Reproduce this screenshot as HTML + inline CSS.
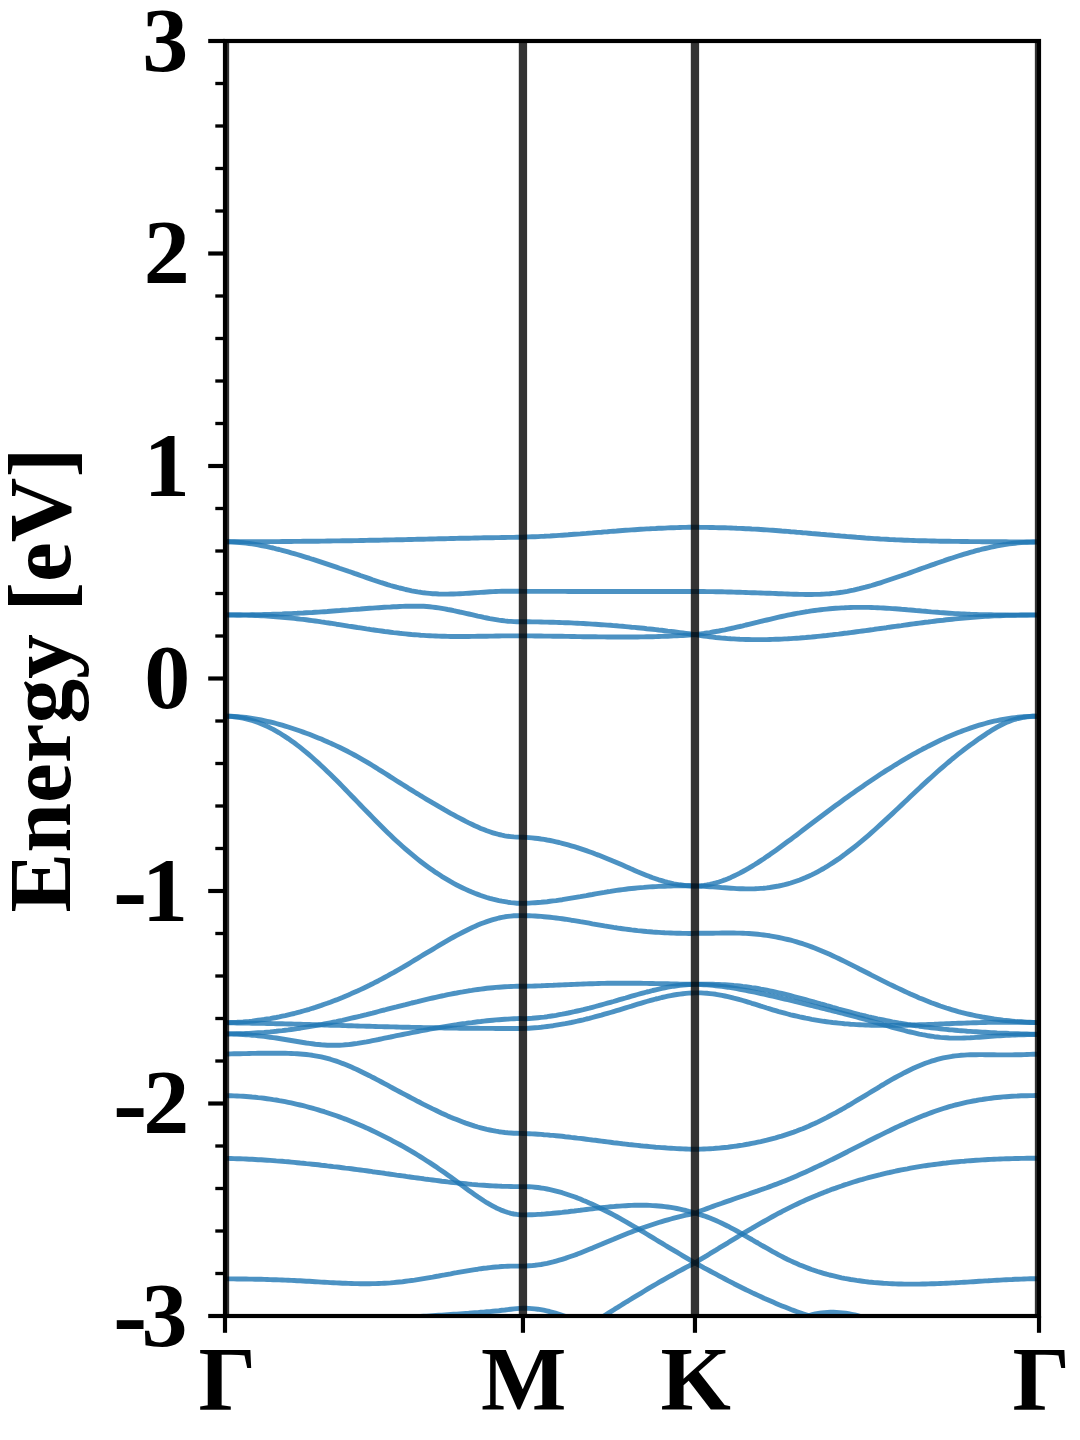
<!DOCTYPE html>
<html lang="en"><head><meta charset="utf-8"><title>Band structure</title>
<style>html,body{margin:0;padding:0;background:#fff}body{width:1080px;height:1440px;overflow:hidden}svg{display:block}text{font-family:"Liberation Serif","Times New Roman",Times,serif;font-weight:bold;fill:#000}</style></head><body>
<svg width="1080" height="1440" viewBox="0 0 1080 1440">
<rect width="1080" height="1440" fill="#fff"/>
<defs><clipPath id="ax"><rect x="225.0" y="41.0" width="814.0" height="1275.0"/></clipPath></defs>
<g clip-path="url(#ax)" fill="none" stroke="#1f77b4" stroke-opacity="0.8" stroke-width="4.9" stroke-linejoin="round" stroke-linecap="butt">
<path d="M225.0,541.8 L228.0,541.8 L231.0,541.8 L234.0,541.8 L237.0,541.8 L240.0,541.8 L243.1,541.8 L246.1,541.8 L249.1,541.8 L252.1,541.7 L255.1,541.7 L258.1,541.7 L261.1,541.7 L264.1,541.7 L267.1,541.7 L270.1,541.6 L273.2,541.6 L276.2,541.6 L279.2,541.6 L282.2,541.5 L285.2,541.5 L288.2,541.5 L291.2,541.5 L294.2,541.4 L297.2,541.4 L300.2,541.4 L303.2,541.3 L306.3,541.3 L309.3,541.3 L312.3,541.2 L315.3,541.2 L318.3,541.2 L321.3,541.1 L324.3,541.1 L327.3,541.0 L330.3,541.0 L333.3,540.9 L336.4,540.9 L339.4,540.9 L342.4,540.8 L345.4,540.8 L348.4,540.7 L351.4,540.7 L354.4,540.6 L357.4,540.6 L360.4,540.5 L363.4,540.5 L366.5,540.4 L369.5,540.3 L372.5,540.3 L375.5,540.2 L378.5,540.2 L381.5,540.1 L384.5,540.0 L387.5,540.0 L390.5,539.9 L393.5,539.9 L396.5,539.8 L399.6,539.7 L402.6,539.7 L405.6,539.6 L408.6,539.5 L411.6,539.5 L414.6,539.4 L417.6,539.3 L420.6,539.2 L423.6,539.2 L426.6,539.1 L429.7,539.0 L432.7,539.0 L435.7,538.9 L438.7,538.8 L441.7,538.8 L444.7,538.7 L447.7,538.6 L450.7,538.5 L453.7,538.5 L456.7,538.4 L459.7,538.3 L462.8,538.3 L465.8,538.2 L468.8,538.2 L471.8,538.1 L474.8,538.0 L477.8,538.0 L480.8,537.9 L483.8,537.8 L486.8,537.8 L489.8,537.7 L492.9,537.7 L495.9,537.6 L498.9,537.6 L501.9,537.5 L504.9,537.5 L507.9,537.4 L510.9,537.4 L513.9,537.4 L516.9,537.3 L519.9,537.3 L523.0,537.2 L526.0,537.0 L529.0,536.9 L532.0,536.8 L535.0,536.7 L538.0,536.6 L541.1,536.4 L544.1,536.3 L547.1,536.1 L550.1,536.0 L553.1,535.8 L556.1,535.6 L559.2,535.4 L562.2,535.2 L565.2,535.0 L568.2,534.8 L571.2,534.5 L574.3,534.3 L577.3,534.1 L580.3,533.9 L583.3,533.6 L586.3,533.4 L589.3,533.1 L592.4,532.9 L595.4,532.6 L598.4,532.4 L601.4,532.2 L604.4,531.9 L607.4,531.7 L610.5,531.4 L613.5,531.2 L616.5,531.0 L619.5,530.7 L622.5,530.5 L625.6,530.3 L628.6,530.1 L631.6,529.9 L634.6,529.7 L637.6,529.5 L640.6,529.3 L643.7,529.1 L646.7,528.9 L649.7,528.8 L652.7,528.6 L655.7,528.5 L658.7,528.3 L661.8,528.2 L664.8,528.1 L667.8,527.9 L670.8,527.8 L673.8,527.7 L676.9,527.6 L679.9,527.5 L682.9,527.4 L685.9,527.4 L688.9,527.3 L691.9,527.3 L695.0,527.3 L698.0,527.3 L700.9,527.4 L703.9,527.4 L706.9,527.4 L709.9,527.5 L712.9,527.5 L715.9,527.6 L718.9,527.7 L721.9,527.7 L724.9,527.8 L727.9,527.9 L730.9,528.0 L733.9,528.1 L736.8,528.3 L739.8,528.4 L742.8,528.5 L745.8,528.7 L748.8,528.8 L751.8,529.0 L754.8,529.1 L757.8,529.3 L760.8,529.5 L763.8,529.7 L766.8,529.9 L769.8,530.1 L772.7,530.3 L775.7,530.5 L778.7,530.7 L781.7,531.0 L784.7,531.2 L787.7,531.4 L790.7,531.7 L793.7,531.9 L796.7,532.2 L799.7,532.4 L802.7,532.7 L805.7,532.9 L808.6,533.2 L811.6,533.5 L814.6,533.7 L817.6,534.0 L820.6,534.3 L823.6,534.5 L826.6,534.8 L829.6,535.0 L832.6,535.3 L835.6,535.6 L838.6,535.8 L841.6,536.1 L844.5,536.3 L847.5,536.6 L850.5,536.8 L853.5,537.0 L856.5,537.3 L859.5,537.5 L862.5,537.7 L865.5,538.0 L868.5,538.2 L871.5,538.4 L874.5,538.6 L877.5,538.8 L880.4,539.0 L883.4,539.1 L886.4,539.3 L889.4,539.5 L892.4,539.6 L895.4,539.8 L898.4,539.9 L901.4,540.0 L904.4,540.2 L907.4,540.3 L910.4,540.4 L913.4,540.5 L916.3,540.6 L919.3,540.7 L922.3,540.8 L925.3,540.8 L928.3,540.9 L931.3,541.0 L934.3,541.0 L937.3,541.1 L940.3,541.2 L943.3,541.2 L946.3,541.3 L949.3,541.3 L952.2,541.4 L955.2,541.4 L958.2,541.4 L961.2,541.5 L964.2,541.5 L967.2,541.5 L970.2,541.6 L973.2,541.6 L976.2,541.6 L979.2,541.6 L982.2,541.7 L985.2,541.7 L988.1,541.7 L991.1,541.7 L994.1,541.8 L997.1,541.8 L1000.1,541.8 L1003.1,541.8 L1006.1,541.8 L1009.1,541.9 L1012.1,541.9 L1015.1,541.9 L1018.1,541.9 L1021.1,541.9 L1024.0,542.0 L1027.0,542.0 L1030.0,542.0 L1033.0,542.0 L1036.0,542.0 L1039.0,542.0"/>
<path d="M225.0,541.8 L228.0,541.8 L231.0,541.9 L234.0,542.0 L237.0,542.2 L240.0,542.5 L243.1,542.8 L246.1,543.1 L249.1,543.5 L252.1,543.9 L255.1,544.4 L258.1,544.9 L261.1,545.5 L264.1,546.1 L267.1,546.7 L270.1,547.4 L273.2,548.0 L276.2,548.8 L279.2,549.5 L282.2,550.3 L285.2,551.1 L288.2,551.9 L291.2,552.8 L294.2,553.6 L297.2,554.5 L300.2,555.4 L303.2,556.3 L306.3,557.3 L309.3,558.2 L312.3,559.2 L315.3,560.1 L318.3,561.1 L321.3,562.1 L324.3,563.1 L327.3,564.1 L330.3,565.1 L333.3,566.1 L336.4,567.1 L339.4,568.2 L342.4,569.2 L345.4,570.2 L348.4,571.3 L351.4,572.3 L354.4,573.4 L357.4,574.4 L360.4,575.5 L363.4,576.5 L366.5,577.6 L369.5,578.6 L372.5,579.7 L375.5,580.7 L378.5,581.7 L381.5,582.7 L384.5,583.6 L387.5,584.6 L390.5,585.5 L393.5,586.3 L396.5,587.2 L399.6,588.0 L402.6,588.7 L405.6,589.5 L408.6,590.1 L411.6,590.8 L414.6,591.3 L417.6,591.9 L420.6,592.3 L423.6,592.8 L426.6,593.1 L429.7,593.4 L432.7,593.7 L435.7,593.8 L438.7,594.0 L441.7,594.1 L444.7,594.1 L447.7,594.1 L450.7,594.0 L453.7,594.0 L456.7,593.9 L459.7,593.7 L462.8,593.6 L465.8,593.4 L468.8,593.2 L471.8,593.0 L474.8,592.8 L477.8,592.6 L480.8,592.4 L483.8,592.2 L486.8,592.0 L489.8,591.8 L492.9,591.6 L495.9,591.5 L498.9,591.4 L501.9,591.3 L504.9,591.2 L507.9,591.2 L510.9,591.2 L513.9,591.2 L516.9,591.3 L519.9,591.3 L523.0,591.4 L526.0,591.4 L529.0,591.4 L532.0,591.4 L535.0,591.4 L538.0,591.4 L541.1,591.4 L544.1,591.4 L547.1,591.4 L550.1,591.4 L553.1,591.4 L556.1,591.4 L559.2,591.4 L562.2,591.4 L565.2,591.4 L568.2,591.5 L571.2,591.5 L574.3,591.5 L577.3,591.5 L580.3,591.5 L583.3,591.5 L586.3,591.5 L589.3,591.5 L592.4,591.5 L595.4,591.5 L598.4,591.5 L601.4,591.5 L604.4,591.5 L607.4,591.5 L610.5,591.5 L613.5,591.5 L616.5,591.5 L619.5,591.5 L622.5,591.5 L625.6,591.5 L628.6,591.5 L631.6,591.5 L634.6,591.5 L637.6,591.5 L640.6,591.5 L643.7,591.5 L646.7,591.5 L649.7,591.5 L652.7,591.5 L655.7,591.5 L658.7,591.5 L661.8,591.5 L664.8,591.5 L667.8,591.5 L670.8,591.5 L673.8,591.5 L676.9,591.5 L679.9,591.5 L682.9,591.5 L685.9,591.5 L688.9,591.5 L691.9,591.5 L695.0,591.5 L698.0,591.5 L700.9,591.5 L703.9,591.5 L706.9,591.6 L709.9,591.6 L712.9,591.6 L715.9,591.7 L718.9,591.8 L721.9,591.8 L724.9,591.9 L727.9,592.0 L730.9,592.0 L733.9,592.1 L736.8,592.2 L739.8,592.3 L742.8,592.4 L745.8,592.5 L748.8,592.6 L751.8,592.7 L754.8,592.8 L757.8,592.9 L760.8,593.0 L763.8,593.1 L766.8,593.2 L769.8,593.3 L772.7,593.4 L775.7,593.5 L778.7,593.7 L781.7,593.8 L784.7,593.9 L787.7,594.0 L790.7,594.1 L793.7,594.2 L796.7,594.3 L799.7,594.4 L802.7,594.4 L805.7,594.5 L808.6,594.5 L811.6,594.5 L814.6,594.4 L817.6,594.4 L820.6,594.3 L823.6,594.1 L826.6,593.9 L829.6,593.7 L832.6,593.4 L835.6,593.1 L838.6,592.7 L841.6,592.3 L844.5,591.8 L847.5,591.3 L850.5,590.7 L853.5,590.1 L856.5,589.4 L859.5,588.7 L862.5,587.9 L865.5,587.2 L868.5,586.3 L871.5,585.5 L874.5,584.6 L877.5,583.7 L880.4,582.8 L883.4,581.8 L886.4,580.8 L889.4,579.8 L892.4,578.8 L895.4,577.8 L898.4,576.8 L901.4,575.8 L904.4,574.7 L907.4,573.7 L910.4,572.6 L913.4,571.5 L916.3,570.5 L919.3,569.4 L922.3,568.3 L925.3,567.3 L928.3,566.2 L931.3,565.1 L934.3,564.1 L937.3,563.0 L940.3,562.0 L943.3,561.0 L946.3,559.9 L949.3,558.9 L952.2,558.0 L955.2,557.0 L958.2,556.0 L961.2,555.1 L964.2,554.2 L967.2,553.3 L970.2,552.4 L973.2,551.6 L976.2,550.7 L979.2,550.0 L982.2,549.2 L985.2,548.5 L988.1,547.8 L991.1,547.1 L994.1,546.5 L997.1,545.9 L1000.1,545.3 L1003.1,544.8 L1006.1,544.4 L1009.1,543.9 L1012.1,543.5 L1015.1,543.2 L1018.1,542.9 L1021.1,542.6 L1024.0,542.4 L1027.0,542.2 L1030.0,542.1 L1033.0,542.0 L1036.0,541.9 L1039.0,541.9"/>
<path d="M225.0,615.0 L228.0,615.0 L231.0,615.0 L234.0,615.0 L237.0,615.0 L240.0,615.0 L243.1,614.9 L246.1,614.9 L249.1,614.9 L252.1,614.8 L255.1,614.8 L258.1,614.7 L261.1,614.6 L264.1,614.5 L267.1,614.5 L270.1,614.4 L273.2,614.3 L276.2,614.2 L279.2,614.1 L282.2,614.0 L285.2,613.8 L288.2,613.7 L291.2,613.6 L294.2,613.4 L297.2,613.3 L300.2,613.1 L303.2,613.0 L306.3,612.8 L309.3,612.6 L312.3,612.5 L315.3,612.3 L318.3,612.1 L321.3,611.9 L324.3,611.7 L327.3,611.5 L330.3,611.2 L333.3,611.0 L336.4,610.8 L339.4,610.6 L342.4,610.3 L345.4,610.1 L348.4,609.9 L351.4,609.6 L354.4,609.4 L357.4,609.2 L360.4,609.0 L363.4,608.7 L366.5,608.5 L369.5,608.3 L372.5,608.1 L375.5,607.9 L378.5,607.7 L381.5,607.5 L384.5,607.3 L387.5,607.1 L390.5,607.0 L393.5,606.8 L396.5,606.7 L399.6,606.5 L402.6,606.4 L405.6,606.3 L408.6,606.2 L411.6,606.2 L414.6,606.2 L417.6,606.2 L420.6,606.2 L423.6,606.3 L426.6,606.5 L429.7,606.8 L432.7,607.1 L435.7,607.5 L438.7,607.9 L441.7,608.4 L444.7,608.9 L447.7,609.5 L450.7,610.0 L453.7,610.7 L456.7,611.3 L459.7,612.0 L462.8,612.6 L465.8,613.3 L468.8,614.0 L471.8,614.7 L474.8,615.4 L477.8,616.1 L480.8,616.7 L483.8,617.4 L486.8,618.0 L489.8,618.6 L492.9,619.1 L495.9,619.6 L498.9,620.1 L501.9,620.5 L504.9,620.9 L507.9,621.2 L510.9,621.4 L513.9,621.6 L516.9,621.7 L519.9,621.7 L523.0,621.8 L526.0,621.8 L529.0,621.8 L532.0,621.9 L535.0,621.9 L538.0,621.9 L541.1,622.0 L544.1,622.1 L547.1,622.1 L550.1,622.2 L553.1,622.3 L556.1,622.4 L559.2,622.5 L562.2,622.6 L565.2,622.7 L568.2,622.8 L571.2,622.9 L574.3,623.1 L577.3,623.2 L580.3,623.4 L583.3,623.5 L586.3,623.7 L589.3,623.9 L592.4,624.1 L595.4,624.3 L598.4,624.5 L601.4,624.7 L604.4,624.9 L607.4,625.1 L610.5,625.3 L613.5,625.6 L616.5,625.8 L619.5,626.1 L622.5,626.3 L625.6,626.6 L628.6,626.9 L631.6,627.2 L634.6,627.4 L637.6,627.7 L640.6,628.0 L643.7,628.3 L646.7,628.7 L649.7,629.0 L652.7,629.3 L655.7,629.6 L658.7,630.0 L661.8,630.3 L664.8,630.7 L667.8,631.1 L670.8,631.4 L673.8,631.8 L676.9,632.2 L679.9,632.6 L682.9,633.0 L685.9,633.4 L688.9,633.8 L691.9,634.2 L695.0,634.6 L698.0,634.3 L700.9,633.9 L703.9,633.5 L706.9,633.0 L709.9,632.6 L712.9,632.0 L715.9,631.5 L718.9,631.0 L721.9,630.4 L724.9,629.8 L727.9,629.1 L730.9,628.5 L733.9,627.8 L736.8,627.1 L739.8,626.5 L742.8,625.8 L745.8,625.0 L748.8,624.3 L751.8,623.6 L754.8,622.9 L757.8,622.2 L760.8,621.4 L763.8,620.7 L766.8,620.0 L769.8,619.3 L772.7,618.6 L775.7,617.9 L778.7,617.2 L781.7,616.5 L784.7,615.8 L787.7,615.2 L790.7,614.6 L793.7,614.0 L796.7,613.4 L799.7,612.9 L802.7,612.3 L805.7,611.8 L808.6,611.4 L811.6,610.9 L814.6,610.5 L817.6,610.1 L820.6,609.7 L823.6,609.4 L826.6,609.1 L829.6,608.8 L832.6,608.5 L835.6,608.3 L838.6,608.1 L841.6,607.9 L844.5,607.8 L847.5,607.6 L850.5,607.5 L853.5,607.4 L856.5,607.4 L859.5,607.4 L862.5,607.4 L865.5,607.4 L868.5,607.4 L871.5,607.5 L874.5,607.6 L877.5,607.7 L880.4,607.9 L883.4,608.0 L886.4,608.2 L889.4,608.4 L892.4,608.6 L895.4,608.8 L898.4,609.0 L901.4,609.3 L904.4,609.5 L907.4,609.8 L910.4,610.0 L913.4,610.3 L916.3,610.6 L919.3,610.8 L922.3,611.1 L925.3,611.3 L928.3,611.6 L931.3,611.9 L934.3,612.1 L937.3,612.3 L940.3,612.6 L943.3,612.8 L946.3,613.0 L949.3,613.2 L952.2,613.4 L955.2,613.6 L958.2,613.7 L961.2,613.9 L964.2,614.0 L967.2,614.1 L970.2,614.3 L973.2,614.4 L976.2,614.5 L979.2,614.6 L982.2,614.6 L985.2,614.7 L988.1,614.8 L991.1,614.8 L994.1,614.9 L997.1,614.9 L1000.1,615.0 L1003.1,615.0 L1006.1,615.0 L1009.1,615.1 L1012.1,615.1 L1015.1,615.1 L1018.1,615.1 L1021.1,615.1 L1024.0,615.1 L1027.0,615.1 L1030.0,615.1 L1033.0,615.1 L1036.0,615.1 L1039.0,615.1"/>
<path d="M225.0,614.9 L228.0,614.9 L231.0,614.9 L234.0,614.9 L237.0,615.0 L240.0,615.0 L243.1,615.1 L246.1,615.1 L249.1,615.2 L252.1,615.3 L255.1,615.5 L258.1,615.6 L261.1,615.8 L264.1,615.9 L267.1,616.1 L270.1,616.3 L273.2,616.5 L276.2,616.7 L279.2,617.0 L282.2,617.2 L285.2,617.5 L288.2,617.8 L291.2,618.1 L294.2,618.4 L297.2,618.7 L300.2,619.1 L303.2,619.4 L306.3,619.8 L309.3,620.2 L312.3,620.6 L315.3,621.0 L318.3,621.4 L321.3,621.9 L324.3,622.3 L327.3,622.8 L330.3,623.2 L333.3,623.7 L336.4,624.2 L339.4,624.6 L342.4,625.1 L345.4,625.6 L348.4,626.1 L351.4,626.5 L354.4,627.0 L357.4,627.5 L360.4,627.9 L363.4,628.4 L366.5,628.9 L369.5,629.3 L372.5,629.8 L375.5,630.2 L378.5,630.6 L381.5,631.0 L384.5,631.5 L387.5,631.8 L390.5,632.2 L393.5,632.6 L396.5,632.9 L399.6,633.3 L402.6,633.6 L405.6,633.9 L408.6,634.2 L411.6,634.5 L414.6,634.7 L417.6,634.9 L420.6,635.2 L423.6,635.4 L426.6,635.6 L429.7,635.7 L432.7,635.9 L435.7,636.0 L438.7,636.1 L441.7,636.2 L444.7,636.3 L447.7,636.4 L450.7,636.5 L453.7,636.5 L456.7,636.5 L459.7,636.5 L462.8,636.5 L465.8,636.5 L468.8,636.5 L471.8,636.4 L474.8,636.4 L477.8,636.3 L480.8,636.3 L483.8,636.2 L486.8,636.2 L489.8,636.1 L492.9,636.1 L495.9,636.0 L498.9,636.0 L501.9,635.9 L504.9,635.9 L507.9,635.9 L510.9,635.9 L513.9,635.9 L516.9,635.9 L519.9,635.9 L523.0,635.9 L526.0,635.9 L529.0,635.9 L532.0,635.9 L535.0,636.0 L538.0,636.0 L541.1,636.0 L544.1,636.1 L547.1,636.1 L550.1,636.1 L553.1,636.2 L556.1,636.2 L559.2,636.3 L562.2,636.3 L565.2,636.4 L568.2,636.4 L571.2,636.5 L574.3,636.5 L577.3,636.6 L580.3,636.6 L583.3,636.7 L586.3,636.7 L589.3,636.7 L592.4,636.8 L595.4,636.8 L598.4,636.9 L601.4,636.9 L604.4,636.9 L607.4,637.0 L610.5,637.0 L613.5,637.0 L616.5,637.0 L619.5,637.0 L622.5,637.0 L625.6,637.0 L628.6,637.0 L631.6,637.0 L634.6,637.0 L637.6,637.0 L640.6,636.9 L643.7,636.9 L646.7,636.8 L649.7,636.8 L652.7,636.7 L655.7,636.6 L658.7,636.5 L661.8,636.4 L664.8,636.3 L667.8,636.2 L670.8,636.1 L673.8,635.9 L676.9,635.8 L679.9,635.6 L682.9,635.5 L685.9,635.3 L688.9,635.1 L691.9,634.9 L695.0,634.6 L698.0,635.1 L700.9,635.5 L703.9,636.0 L706.9,636.4 L709.9,636.8 L712.9,637.1 L715.9,637.5 L718.9,637.8 L721.9,638.1 L724.9,638.3 L727.9,638.6 L730.9,638.8 L733.9,638.9 L736.8,639.1 L739.8,639.3 L742.8,639.4 L745.8,639.5 L748.8,639.5 L751.8,639.6 L754.8,639.6 L757.8,639.6 L760.8,639.6 L763.8,639.6 L766.8,639.6 L769.8,639.5 L772.7,639.4 L775.7,639.3 L778.7,639.2 L781.7,639.1 L784.7,638.9 L787.7,638.8 L790.7,638.6 L793.7,638.4 L796.7,638.2 L799.7,638.0 L802.7,637.7 L805.7,637.5 L808.6,637.2 L811.6,637.0 L814.6,636.7 L817.6,636.4 L820.6,636.1 L823.6,635.8 L826.6,635.5 L829.6,635.1 L832.6,634.8 L835.6,634.4 L838.6,634.1 L841.6,633.7 L844.5,633.3 L847.5,633.0 L850.5,632.6 L853.5,632.2 L856.5,631.8 L859.5,631.4 L862.5,631.0 L865.5,630.6 L868.5,630.2 L871.5,629.8 L874.5,629.3 L877.5,628.9 L880.4,628.5 L883.4,628.1 L886.4,627.7 L889.4,627.2 L892.4,626.8 L895.4,626.4 L898.4,626.0 L901.4,625.6 L904.4,625.1 L907.4,624.7 L910.4,624.3 L913.4,623.9 L916.3,623.5 L919.3,623.1 L922.3,622.7 L925.3,622.3 L928.3,622.0 L931.3,621.6 L934.3,621.2 L937.3,620.8 L940.3,620.5 L943.3,620.2 L946.3,619.8 L949.3,619.5 L952.2,619.2 L955.2,618.9 L958.2,618.6 L961.2,618.3 L964.2,618.0 L967.2,617.8 L970.2,617.5 L973.2,617.3 L976.2,617.0 L979.2,616.8 L982.2,616.6 L985.2,616.4 L988.1,616.3 L991.1,616.1 L994.1,615.9 L997.1,615.8 L1000.1,615.7 L1003.1,615.6 L1006.1,615.4 L1009.1,615.3 L1012.1,615.3 L1015.1,615.2 L1018.1,615.1 L1021.1,615.0 L1024.0,615.0 L1027.0,615.0 L1030.0,614.9 L1033.0,614.9 L1036.0,614.9 L1039.0,614.9"/>
<path d="M225.0,716.2 L228.0,716.2 L231.0,716.3 L234.0,716.5 L237.0,716.7 L240.0,716.9 L243.1,717.2 L246.1,717.5 L249.1,717.9 L252.1,718.4 L255.1,718.9 L258.1,719.4 L261.1,720.0 L264.1,720.6 L267.1,721.3 L270.1,722.0 L273.2,722.7 L276.2,723.5 L279.2,724.3 L282.2,725.2 L285.2,726.1 L288.2,727.0 L291.2,728.0 L294.2,729.0 L297.2,730.0 L300.2,731.0 L303.2,732.1 L306.3,733.2 L309.3,734.3 L312.3,735.5 L315.3,736.7 L318.3,737.9 L321.3,739.1 L324.3,740.4 L327.3,741.7 L330.3,743.1 L333.3,744.4 L336.4,745.9 L339.4,747.3 L342.4,748.8 L345.4,750.3 L348.4,751.8 L351.4,753.4 L354.4,755.0 L357.4,756.7 L360.4,758.4 L363.4,760.1 L366.5,761.9 L369.5,763.7 L372.5,765.5 L375.5,767.4 L378.5,769.3 L381.5,771.1 L384.5,773.0 L387.5,774.9 L390.5,776.9 L393.5,778.8 L396.5,780.7 L399.6,782.6 L402.6,784.5 L405.6,786.4 L408.6,788.3 L411.6,790.1 L414.6,792.0 L417.6,793.8 L420.6,795.7 L423.6,797.5 L426.6,799.3 L429.7,801.1 L432.7,802.9 L435.7,804.6 L438.7,806.4 L441.7,808.1 L444.7,809.9 L447.7,811.6 L450.7,813.3 L453.7,814.9 L456.7,816.6 L459.7,818.2 L462.8,819.8 L465.8,821.4 L468.8,822.9 L471.8,824.3 L474.8,825.8 L477.8,827.1 L480.8,828.4 L483.8,829.6 L486.8,830.8 L489.8,831.8 L492.9,832.8 L495.9,833.7 L498.9,834.5 L501.9,835.2 L504.9,835.8 L507.9,836.3 L510.9,836.6 L513.9,836.9 L516.9,837.1 L519.9,837.1 L523.0,837.2 L526.0,837.4 L529.0,837.6 L532.0,837.9 L535.0,838.2 L538.0,838.5 L541.1,839.0 L544.1,839.4 L547.1,840.0 L550.1,840.5 L553.1,841.1 L556.1,841.8 L559.2,842.5 L562.2,843.3 L565.2,844.1 L568.2,844.9 L571.2,845.8 L574.3,846.7 L577.3,847.6 L580.3,848.6 L583.3,849.6 L586.3,850.6 L589.3,851.7 L592.4,852.8 L595.4,854.0 L598.4,855.1 L601.4,856.3 L604.4,857.5 L607.4,858.7 L610.5,860.0 L613.5,861.2 L616.5,862.5 L619.5,863.8 L622.5,865.1 L625.6,866.4 L628.6,867.7 L631.6,869.1 L634.6,870.4 L637.6,871.7 L640.6,872.9 L643.7,874.2 L646.7,875.4 L649.7,876.6 L652.7,877.7 L655.7,878.7 L658.7,879.8 L661.8,880.7 L664.8,881.6 L667.8,882.4 L670.8,883.1 L673.8,883.8 L676.9,884.3 L679.9,884.8 L682.9,885.2 L685.9,885.6 L688.9,885.8 L691.9,886.0 L695.0,886.0 L698.0,885.9 L700.9,885.7 L703.9,885.4 L706.9,885.0 L709.9,884.4 L712.9,883.7 L715.9,882.9 L718.9,882.0 L721.9,881.0 L724.9,879.9 L727.9,878.7 L730.9,877.4 L733.9,876.0 L736.8,874.6 L739.8,873.1 L742.8,871.5 L745.8,869.8 L748.8,868.1 L751.8,866.3 L754.8,864.5 L757.8,862.6 L760.8,860.6 L763.8,858.7 L766.8,856.6 L769.8,854.6 L772.7,852.5 L775.7,850.4 L778.7,848.2 L781.7,846.0 L784.7,843.8 L787.7,841.6 L790.7,839.4 L793.7,837.1 L796.7,834.9 L799.7,832.6 L802.7,830.3 L805.7,828.0 L808.6,825.8 L811.6,823.5 L814.6,821.2 L817.6,819.0 L820.6,816.7 L823.6,814.5 L826.6,812.2 L829.6,810.0 L832.6,807.8 L835.6,805.6 L838.6,803.4 L841.6,801.2 L844.5,799.1 L847.5,796.9 L850.5,794.8 L853.5,792.7 L856.5,790.6 L859.5,788.5 L862.5,786.4 L865.5,784.3 L868.5,782.3 L871.5,780.3 L874.5,778.3 L877.5,776.3 L880.4,774.3 L883.4,772.4 L886.4,770.4 L889.4,768.6 L892.4,766.7 L895.4,764.8 L898.4,763.0 L901.4,761.2 L904.4,759.4 L907.4,757.7 L910.4,755.9 L913.4,754.2 L916.3,752.6 L919.3,750.9 L922.3,749.3 L925.3,747.8 L928.3,746.2 L931.3,744.7 L934.3,743.2 L937.3,741.7 L940.3,740.3 L943.3,738.9 L946.3,737.6 L949.3,736.3 L952.2,735.0 L955.2,733.8 L958.2,732.6 L961.2,731.4 L964.2,730.3 L967.2,729.2 L970.2,728.1 L973.2,727.1 L976.2,726.1 L979.2,725.2 L982.2,724.3 L985.2,723.5 L988.1,722.7 L991.1,721.9 L994.1,721.2 L997.1,720.6 L1000.1,720.0 L1003.1,719.4 L1006.1,718.9 L1009.1,718.4 L1012.1,718.0 L1015.1,717.6 L1018.1,717.3 L1021.1,717.0 L1024.0,716.7 L1027.0,716.6 L1030.0,716.4 L1033.0,716.3 L1036.0,716.3 L1039.0,716.3"/>
<path d="M225.0,716.2 L228.0,716.2 L231.0,716.4 L234.0,716.7 L237.0,717.0 L240.0,717.5 L243.1,718.1 L246.1,718.8 L249.1,719.6 L252.1,720.5 L255.1,721.4 L258.1,722.5 L261.1,723.7 L264.1,725.0 L267.1,726.4 L270.1,727.9 L273.2,729.4 L276.2,731.1 L279.2,732.8 L282.2,734.7 L285.2,736.6 L288.2,738.6 L291.2,740.7 L294.2,742.8 L297.2,745.1 L300.2,747.4 L303.2,749.8 L306.3,752.3 L309.3,754.9 L312.3,757.5 L315.3,760.2 L318.3,762.9 L321.3,765.7 L324.3,768.5 L327.3,771.4 L330.3,774.3 L333.3,777.3 L336.4,780.3 L339.4,783.3 L342.4,786.4 L345.4,789.5 L348.4,792.6 L351.4,795.7 L354.4,798.8 L357.4,801.9 L360.4,805.0 L363.4,808.1 L366.5,811.2 L369.5,814.3 L372.5,817.4 L375.5,820.5 L378.5,823.5 L381.5,826.5 L384.5,829.5 L387.5,832.4 L390.5,835.3 L393.5,838.2 L396.5,841.0 L399.6,843.8 L402.6,846.5 L405.6,849.1 L408.6,851.7 L411.6,854.2 L414.6,856.7 L417.6,859.1 L420.6,861.5 L423.6,863.8 L426.6,866.0 L429.7,868.2 L432.7,870.3 L435.7,872.4 L438.7,874.3 L441.7,876.3 L444.7,878.1 L447.7,879.9 L450.7,881.7 L453.7,883.4 L456.7,885.0 L459.7,886.5 L462.8,888.0 L465.8,889.4 L468.8,890.8 L471.8,892.1 L474.8,893.3 L477.8,894.4 L480.8,895.5 L483.8,896.5 L486.8,897.5 L489.8,898.4 L492.9,899.2 L495.9,899.9 L498.9,900.6 L501.9,901.2 L504.9,901.7 L507.9,902.2 L510.9,902.6 L513.9,902.9 L516.9,903.2 L519.9,903.3 L523.0,903.4 L526.0,903.2 L529.0,903.1 L532.0,902.9 L535.0,902.7 L538.0,902.5 L541.1,902.3 L544.1,902.0 L547.1,901.7 L550.1,901.3 L553.1,900.9 L556.1,900.6 L559.2,900.1 L562.2,899.7 L565.2,899.2 L568.2,898.7 L571.2,898.2 L574.3,897.7 L577.3,897.2 L580.3,896.7 L583.3,896.1 L586.3,895.6 L589.3,895.0 L592.4,894.5 L595.4,893.9 L598.4,893.4 L601.4,892.9 L604.4,892.4 L607.4,891.8 L610.5,891.4 L613.5,890.9 L616.5,890.4 L619.5,890.0 L622.5,889.6 L625.6,889.2 L628.6,888.8 L631.6,888.5 L634.6,888.2 L637.6,887.9 L640.6,887.6 L643.7,887.4 L646.7,887.1 L649.7,886.9 L652.7,886.7 L655.7,886.6 L658.7,886.4 L661.8,886.3 L664.8,886.2 L667.8,886.1 L670.8,886.0 L673.8,885.9 L676.9,885.9 L679.9,885.8 L682.9,885.8 L685.9,885.8 L688.9,885.8 L691.9,885.9 L695.0,886.0 L698.0,886.1 L700.9,886.2 L703.9,886.3 L706.9,886.5 L709.9,886.7 L712.9,886.9 L715.9,887.1 L718.9,887.3 L721.9,887.6 L724.9,887.8 L727.9,888.0 L730.9,888.2 L733.9,888.4 L736.8,888.6 L739.8,888.7 L742.8,888.8 L745.8,888.9 L748.8,888.9 L751.8,888.9 L754.8,888.8 L757.8,888.6 L760.8,888.4 L763.8,888.2 L766.8,887.9 L769.8,887.5 L772.7,887.0 L775.7,886.5 L778.7,886.0 L781.7,885.3 L784.7,884.6 L787.7,883.8 L790.7,883.0 L793.7,882.0 L796.7,881.0 L799.7,880.0 L802.7,878.8 L805.7,877.6 L808.6,876.3 L811.6,874.9 L814.6,873.4 L817.6,871.8 L820.6,870.2 L823.6,868.5 L826.6,866.7 L829.6,864.8 L832.6,862.9 L835.6,860.9 L838.6,858.9 L841.6,856.7 L844.5,854.6 L847.5,852.3 L850.5,850.0 L853.5,847.7 L856.5,845.3 L859.5,842.9 L862.5,840.4 L865.5,837.8 L868.5,835.3 L871.5,832.7 L874.5,830.0 L877.5,827.3 L880.4,824.6 L883.4,821.9 L886.4,819.1 L889.4,816.4 L892.4,813.6 L895.4,810.8 L898.4,807.9 L901.4,805.1 L904.4,802.3 L907.4,799.5 L910.4,796.6 L913.4,793.8 L916.3,791.0 L919.3,788.2 L922.3,785.4 L925.3,782.6 L928.3,779.9 L931.3,777.2 L934.3,774.5 L937.3,771.8 L940.3,769.2 L943.3,766.6 L946.3,764.0 L949.3,761.5 L952.2,759.0 L955.2,756.6 L958.2,754.2 L961.2,751.8 L964.2,749.5 L967.2,747.3 L970.2,745.0 L973.2,742.9 L976.2,740.7 L979.2,738.6 L982.2,736.6 L985.2,734.6 L988.1,732.6 L991.1,730.7 L994.1,728.9 L997.1,727.1 L1000.1,725.5 L1003.1,724.0 L1006.1,722.6 L1009.1,721.4 L1012.1,720.3 L1015.1,719.3 L1018.1,718.5 L1021.1,717.8 L1024.0,717.2 L1027.0,716.8 L1030.0,716.5 L1033.0,716.3 L1036.0,716.3 L1039.0,716.3"/>
<path d="M225.0,1022.6 L228.0,1022.6 L231.0,1022.5 L234.0,1022.4 L237.0,1022.3 L240.0,1022.1 L243.1,1021.9 L246.1,1021.6 L249.1,1021.4 L252.1,1021.1 L255.1,1020.7 L258.1,1020.3 L261.1,1019.9 L264.1,1019.5 L267.1,1019.0 L270.1,1018.6 L273.2,1018.0 L276.2,1017.5 L279.2,1016.9 L282.2,1016.2 L285.2,1015.6 L288.2,1014.9 L291.2,1014.2 L294.2,1013.5 L297.2,1012.7 L300.2,1011.9 L303.2,1011.0 L306.3,1010.2 L309.3,1009.3 L312.3,1008.3 L315.3,1007.4 L318.3,1006.4 L321.3,1005.4 L324.3,1004.3 L327.3,1003.3 L330.3,1002.2 L333.3,1001.0 L336.4,999.9 L339.4,998.7 L342.4,997.5 L345.4,996.2 L348.4,995.0 L351.4,993.6 L354.4,992.3 L357.4,991.0 L360.4,989.6 L363.4,988.2 L366.5,986.7 L369.5,985.3 L372.5,983.8 L375.5,982.2 L378.5,980.7 L381.5,979.1 L384.5,977.5 L387.5,975.9 L390.5,974.2 L393.5,972.6 L396.5,970.8 L399.6,969.1 L402.6,967.4 L405.6,965.6 L408.6,963.8 L411.6,962.0 L414.6,960.2 L417.6,958.4 L420.6,956.5 L423.6,954.7 L426.6,952.9 L429.7,951.1 L432.7,949.3 L435.7,947.5 L438.7,945.7 L441.7,943.9 L444.7,942.1 L447.7,940.4 L450.7,938.7 L453.7,937.0 L456.7,935.4 L459.7,933.8 L462.8,932.2 L465.8,930.7 L468.8,929.2 L471.8,927.8 L474.8,926.4 L477.8,925.1 L480.8,923.8 L483.8,922.7 L486.8,921.6 L489.8,920.6 L492.9,919.6 L495.9,918.8 L498.9,918.0 L501.9,917.4 L504.9,916.8 L507.9,916.4 L510.9,916.1 L513.9,915.8 L516.9,915.7 L519.9,915.6 L523.0,915.6 L526.0,915.7 L529.0,915.7 L532.0,915.9 L535.0,916.0 L538.0,916.2 L541.1,916.4 L544.1,916.7 L547.1,917.0 L550.1,917.3 L553.1,917.6 L556.1,918.0 L559.2,918.4 L562.2,918.8 L565.2,919.2 L568.2,919.7 L571.2,920.2 L574.3,920.6 L577.3,921.1 L580.3,921.7 L583.3,922.2 L586.3,922.7 L589.3,923.2 L592.4,923.8 L595.4,924.3 L598.4,924.8 L601.4,925.3 L604.4,925.9 L607.4,926.4 L610.5,926.9 L613.5,927.4 L616.5,927.8 L619.5,928.3 L622.5,928.7 L625.6,929.1 L628.6,929.5 L631.6,929.9 L634.6,930.2 L637.6,930.6 L640.6,930.9 L643.7,931.2 L646.7,931.5 L649.7,931.7 L652.7,932.0 L655.7,932.2 L658.7,932.4 L661.8,932.6 L664.8,932.8 L667.8,932.9 L670.8,933.0 L673.8,933.1 L676.9,933.2 L679.9,933.3 L682.9,933.4 L685.9,933.4 L688.9,933.5 L691.9,933.5 L695.0,933.4 L698.0,933.3 L700.9,933.3 L703.9,933.3 L706.9,933.3 L709.9,933.2 L712.9,933.2 L715.9,933.1 L718.9,933.1 L721.9,933.0 L724.9,933.0 L727.9,933.0 L730.9,933.0 L733.9,933.0 L736.8,933.1 L739.8,933.1 L742.8,933.2 L745.8,933.4 L748.8,933.5 L751.8,933.7 L754.8,934.0 L757.8,934.3 L760.8,934.6 L763.8,935.0 L766.8,935.4 L769.8,935.8 L772.7,936.3 L775.7,936.9 L778.7,937.5 L781.7,938.1 L784.7,938.8 L787.7,939.5 L790.7,940.2 L793.7,941.0 L796.7,941.9 L799.7,942.8 L802.7,943.7 L805.7,944.7 L808.6,945.8 L811.6,946.9 L814.6,948.0 L817.6,949.2 L820.6,950.4 L823.6,951.7 L826.6,953.0 L829.6,954.3 L832.6,955.7 L835.6,957.1 L838.6,958.5 L841.6,960.0 L844.5,961.4 L847.5,962.9 L850.5,964.4 L853.5,965.9 L856.5,967.4 L859.5,969.0 L862.5,970.5 L865.5,972.0 L868.5,973.5 L871.5,975.1 L874.5,976.6 L877.5,978.1 L880.4,979.6 L883.4,981.1 L886.4,982.6 L889.4,984.1 L892.4,985.5 L895.4,987.0 L898.4,988.4 L901.4,989.8 L904.4,991.2 L907.4,992.6 L910.4,994.0 L913.4,995.3 L916.3,996.6 L919.3,997.9 L922.3,999.1 L925.3,1000.3 L928.3,1001.5 L931.3,1002.7 L934.3,1003.8 L937.3,1004.9 L940.3,1006.0 L943.3,1007.0 L946.3,1008.0 L949.3,1008.9 L952.2,1009.8 L955.2,1010.7 L958.2,1011.6 L961.2,1012.4 L964.2,1013.1 L967.2,1013.8 L970.2,1014.5 L973.2,1015.2 L976.2,1015.8 L979.2,1016.4 L982.2,1017.0 L985.2,1017.5 L988.1,1018.0 L991.1,1018.5 L994.1,1019.0 L997.1,1019.4 L1000.1,1019.8 L1003.1,1020.2 L1006.1,1020.5 L1009.1,1020.8 L1012.1,1021.1 L1015.1,1021.4 L1018.1,1021.6 L1021.1,1021.8 L1024.0,1022.0 L1027.0,1022.2 L1030.0,1022.3 L1033.0,1022.4 L1036.0,1022.5 L1039.0,1022.5"/>
<path d="M225.0,1034.0 L228.0,1034.0 L231.0,1033.9 L234.0,1033.9 L237.0,1033.8 L240.0,1033.7 L243.1,1033.6 L246.1,1033.5 L249.1,1033.4 L252.1,1033.2 L255.1,1033.0 L258.1,1032.8 L261.1,1032.6 L264.1,1032.4 L267.1,1032.1 L270.1,1031.9 L273.2,1031.6 L276.2,1031.3 L279.2,1030.9 L282.2,1030.6 L285.2,1030.2 L288.2,1029.9 L291.2,1029.5 L294.2,1029.1 L297.2,1028.6 L300.2,1028.2 L303.2,1027.7 L306.3,1027.2 L309.3,1026.7 L312.3,1026.2 L315.3,1025.7 L318.3,1025.2 L321.3,1024.6 L324.3,1024.0 L327.3,1023.4 L330.3,1022.8 L333.3,1022.2 L336.4,1021.6 L339.4,1020.9 L342.4,1020.3 L345.4,1019.6 L348.4,1018.9 L351.4,1018.2 L354.4,1017.5 L357.4,1016.8 L360.4,1016.1 L363.4,1015.3 L366.5,1014.6 L369.5,1013.8 L372.5,1013.1 L375.5,1012.3 L378.5,1011.5 L381.5,1010.7 L384.5,1010.0 L387.5,1009.2 L390.5,1008.4 L393.5,1007.6 L396.5,1006.9 L399.6,1006.1 L402.6,1005.3 L405.6,1004.6 L408.6,1003.8 L411.6,1003.0 L414.6,1002.3 L417.6,1001.6 L420.6,1000.8 L423.6,1000.1 L426.6,999.4 L429.7,998.7 L432.7,998.0 L435.7,997.3 L438.7,996.6 L441.7,996.0 L444.7,995.4 L447.7,994.7 L450.7,994.1 L453.7,993.5 L456.7,993.0 L459.7,992.4 L462.8,991.9 L465.8,991.3 L468.8,990.8 L471.8,990.4 L474.8,989.9 L477.8,989.5 L480.8,989.1 L483.8,988.7 L486.8,988.3 L489.8,988.0 L492.9,987.7 L495.9,987.4 L498.9,987.2 L501.9,987.0 L504.9,986.8 L507.9,986.6 L510.9,986.5 L513.9,986.4 L516.9,986.3 L519.9,986.3 L523.0,986.3 L526.0,986.2 L529.0,986.1 L532.0,986.1 L535.0,986.0 L538.0,985.9 L541.1,985.8 L544.1,985.6 L547.1,985.5 L550.1,985.4 L553.1,985.3 L556.1,985.1 L559.2,985.0 L562.2,984.9 L565.2,984.7 L568.2,984.6 L571.2,984.5 L574.3,984.4 L577.3,984.2 L580.3,984.1 L583.3,984.0 L586.3,983.9 L589.3,983.8 L592.4,983.7 L595.4,983.6 L598.4,983.5 L601.4,983.4 L604.4,983.4 L607.4,983.3 L610.5,983.3 L613.5,983.3 L616.5,983.2 L619.5,983.2 L622.5,983.2 L625.6,983.2 L628.6,983.2 L631.6,983.2 L634.6,983.3 L637.6,983.3 L640.6,983.3 L643.7,983.4 L646.7,983.4 L649.7,983.5 L652.7,983.5 L655.7,983.6 L658.7,983.6 L661.8,983.7 L664.8,983.7 L667.8,983.8 L670.8,983.9 L673.8,983.9 L676.9,984.0 L679.9,984.1 L682.9,984.1 L685.9,984.2 L688.9,984.2 L691.9,984.2 L695.0,984.2 L698.0,984.1 L700.9,984.1 L703.9,984.1 L706.9,984.2 L709.9,984.2 L712.9,984.3 L715.9,984.4 L718.9,984.5 L721.9,984.6 L724.9,984.8 L727.9,985.0 L730.9,985.2 L733.9,985.5 L736.8,985.7 L739.8,986.0 L742.8,986.4 L745.8,986.7 L748.8,987.1 L751.8,987.6 L754.8,988.0 L757.8,988.5 L760.8,989.1 L763.8,989.6 L766.8,990.2 L769.8,990.8 L772.7,991.4 L775.7,992.1 L778.7,992.8 L781.7,993.5 L784.7,994.2 L787.7,994.9 L790.7,995.7 L793.7,996.5 L796.7,997.3 L799.7,998.1 L802.7,998.9 L805.7,999.7 L808.6,1000.5 L811.6,1001.3 L814.6,1002.2 L817.6,1003.0 L820.6,1003.9 L823.6,1004.7 L826.6,1005.6 L829.6,1006.4 L832.6,1007.3 L835.6,1008.1 L838.6,1009.0 L841.6,1009.8 L844.5,1010.6 L847.5,1011.4 L850.5,1012.2 L853.5,1013.0 L856.5,1013.8 L859.5,1014.6 L862.5,1015.3 L865.5,1016.0 L868.5,1016.8 L871.5,1017.5 L874.5,1018.1 L877.5,1018.8 L880.4,1019.4 L883.4,1020.0 L886.4,1020.6 L889.4,1021.2 L892.4,1021.8 L895.4,1022.3 L898.4,1022.9 L901.4,1023.4 L904.4,1023.9 L907.4,1024.4 L910.4,1024.8 L913.4,1025.3 L916.3,1025.7 L919.3,1026.2 L922.3,1026.6 L925.3,1027.0 L928.3,1027.3 L931.3,1027.7 L934.3,1028.1 L937.3,1028.4 L940.3,1028.7 L943.3,1029.1 L946.3,1029.4 L949.3,1029.7 L952.2,1029.9 L955.2,1030.2 L958.2,1030.5 L961.2,1030.7 L964.2,1030.9 L967.2,1031.2 L970.2,1031.4 L973.2,1031.6 L976.2,1031.8 L979.2,1032.0 L982.2,1032.2 L985.2,1032.3 L988.1,1032.5 L991.1,1032.7 L994.1,1032.8 L997.1,1033.0 L1000.1,1033.1 L1003.1,1033.2 L1006.1,1033.3 L1009.1,1033.5 L1012.1,1033.6 L1015.1,1033.7 L1018.1,1033.8 L1021.1,1033.9 L1024.0,1033.9 L1027.0,1034.0 L1030.0,1034.1 L1033.0,1034.1 L1036.0,1034.2 L1039.0,1034.2"/>
<path d="M225.0,1033.8 L228.0,1033.9 L231.0,1033.9 L234.0,1034.0 L237.0,1034.1 L240.0,1034.3 L243.1,1034.5 L246.1,1034.7 L249.1,1034.9 L252.1,1035.2 L255.1,1035.4 L258.1,1035.7 L261.1,1036.1 L264.1,1036.4 L267.1,1036.8 L270.1,1037.2 L273.2,1037.6 L276.2,1038.0 L279.2,1038.5 L282.2,1039.0 L285.2,1039.5 L288.2,1040.0 L291.2,1040.5 L294.2,1041.0 L297.2,1041.5 L300.2,1042.0 L303.2,1042.5 L306.3,1043.0 L309.3,1043.4 L312.3,1043.8 L315.3,1044.2 L318.3,1044.5 L321.3,1044.8 L324.3,1045.0 L327.3,1045.2 L330.3,1045.3 L333.3,1045.3 L336.4,1045.3 L339.4,1045.2 L342.4,1045.1 L345.4,1044.8 L348.4,1044.6 L351.4,1044.2 L354.4,1043.8 L357.4,1043.4 L360.4,1042.9 L363.4,1042.4 L366.5,1041.9 L369.5,1041.3 L372.5,1040.7 L375.5,1040.1 L378.5,1039.5 L381.5,1038.8 L384.5,1038.2 L387.5,1037.6 L390.5,1037.0 L393.5,1036.3 L396.5,1035.7 L399.6,1035.1 L402.6,1034.5 L405.6,1033.9 L408.6,1033.3 L411.6,1032.7 L414.6,1032.1 L417.6,1031.5 L420.6,1030.9 L423.6,1030.4 L426.6,1029.8 L429.7,1029.2 L432.7,1028.7 L435.7,1028.1 L438.7,1027.6 L441.7,1027.1 L444.7,1026.6 L447.7,1026.1 L450.7,1025.6 L453.7,1025.1 L456.7,1024.7 L459.7,1024.2 L462.8,1023.8 L465.8,1023.4 L468.8,1022.9 L471.8,1022.6 L474.8,1022.2 L477.8,1021.8 L480.8,1021.5 L483.8,1021.1 L486.8,1020.8 L489.8,1020.5 L492.9,1020.2 L495.9,1019.9 L498.9,1019.7 L501.9,1019.5 L504.9,1019.3 L507.9,1019.1 L510.9,1018.9 L513.9,1018.7 L516.9,1018.6 L519.9,1018.5 L523.0,1018.6 L526.0,1018.7 L529.0,1018.5 L532.0,1018.3 L535.0,1018.0 L538.0,1017.7 L541.1,1017.4 L544.1,1017.1 L547.1,1016.7 L550.1,1016.2 L553.1,1015.8 L556.1,1015.3 L559.2,1014.7 L562.2,1014.2 L565.2,1013.6 L568.2,1013.0 L571.2,1012.3 L574.3,1011.7 L577.3,1011.0 L580.3,1010.3 L583.3,1009.6 L586.3,1008.8 L589.3,1008.1 L592.4,1007.3 L595.4,1006.5 L598.4,1005.7 L601.4,1004.8 L604.4,1004.0 L607.4,1003.2 L610.5,1002.3 L613.5,1001.5 L616.5,1000.6 L619.5,999.7 L622.5,998.8 L625.6,998.0 L628.6,997.1 L631.6,996.2 L634.6,995.3 L637.6,994.5 L640.6,993.7 L643.7,992.8 L646.7,992.0 L649.7,991.3 L652.7,990.5 L655.7,989.8 L658.7,989.1 L661.8,988.4 L664.8,987.8 L667.8,987.2 L670.8,986.7 L673.8,986.2 L676.9,985.8 L679.9,985.4 L682.9,985.0 L685.9,984.8 L688.9,984.6 L691.9,984.4 L695.0,984.4 L698.0,984.4 L700.9,984.5 L703.9,984.7 L706.9,984.9 L709.9,985.1 L712.9,985.4 L715.9,985.7 L718.9,986.0 L721.9,986.4 L724.9,986.8 L727.9,987.2 L730.9,987.7 L733.9,988.2 L736.8,988.7 L739.8,989.3 L742.8,989.8 L745.8,990.4 L748.8,991.0 L751.8,991.6 L754.8,992.2 L757.8,992.9 L760.8,993.5 L763.8,994.2 L766.8,994.8 L769.8,995.5 L772.7,996.2 L775.7,996.9 L778.7,997.6 L781.7,998.3 L784.7,999.0 L787.7,999.7 L790.7,1000.4 L793.7,1001.1 L796.7,1001.9 L799.7,1002.6 L802.7,1003.3 L805.7,1004.1 L808.6,1004.8 L811.6,1005.5 L814.6,1006.3 L817.6,1007.0 L820.6,1007.8 L823.6,1008.5 L826.6,1009.3 L829.6,1010.0 L832.6,1010.8 L835.6,1011.5 L838.6,1012.3 L841.6,1013.0 L844.5,1013.8 L847.5,1014.6 L850.5,1015.4 L853.5,1016.2 L856.5,1017.0 L859.5,1017.8 L862.5,1018.6 L865.5,1019.5 L868.5,1020.3 L871.5,1021.2 L874.5,1022.1 L877.5,1022.9 L880.4,1023.8 L883.4,1024.7 L886.4,1025.5 L889.4,1026.4 L892.4,1027.3 L895.4,1028.1 L898.4,1028.9 L901.4,1029.7 L904.4,1030.5 L907.4,1031.3 L910.4,1032.0 L913.4,1032.7 L916.3,1033.4 L919.3,1034.1 L922.3,1034.7 L925.3,1035.2 L928.3,1035.8 L931.3,1036.2 L934.3,1036.7 L937.3,1037.0 L940.3,1037.4 L943.3,1037.6 L946.3,1037.8 L949.3,1038.0 L952.2,1038.1 L955.2,1038.1 L958.2,1038.1 L961.2,1038.1 L964.2,1038.0 L967.2,1037.9 L970.2,1037.8 L973.2,1037.6 L976.2,1037.4 L979.2,1037.2 L982.2,1037.0 L985.2,1036.8 L988.1,1036.6 L991.1,1036.4 L994.1,1036.1 L997.1,1035.9 L1000.1,1035.8 L1003.1,1035.6 L1006.1,1035.4 L1009.1,1035.3 L1012.1,1035.1 L1015.1,1035.0 L1018.1,1034.9 L1021.1,1034.8 L1024.0,1034.7 L1027.0,1034.6 L1030.0,1034.5 L1033.0,1034.5 L1036.0,1034.5 L1039.0,1034.4"/>
<path d="M225.0,1022.8 L228.0,1022.9 L231.0,1022.9 L234.0,1022.9 L237.0,1023.0 L240.0,1023.0 L243.1,1023.0 L246.1,1023.1 L249.1,1023.1 L252.1,1023.2 L255.1,1023.2 L258.1,1023.3 L261.1,1023.3 L264.1,1023.4 L267.1,1023.5 L270.1,1023.5 L273.2,1023.6 L276.2,1023.7 L279.2,1023.7 L282.2,1023.8 L285.2,1023.9 L288.2,1024.0 L291.2,1024.0 L294.2,1024.1 L297.2,1024.2 L300.2,1024.3 L303.2,1024.4 L306.3,1024.5 L309.3,1024.5 L312.3,1024.6 L315.3,1024.7 L318.3,1024.8 L321.3,1024.9 L324.3,1025.0 L327.3,1025.1 L330.3,1025.2 L333.3,1025.3 L336.4,1025.3 L339.4,1025.4 L342.4,1025.5 L345.4,1025.6 L348.4,1025.7 L351.4,1025.8 L354.4,1025.9 L357.4,1026.0 L360.4,1026.1 L363.4,1026.1 L366.5,1026.2 L369.5,1026.3 L372.5,1026.4 L375.5,1026.5 L378.5,1026.6 L381.5,1026.6 L384.5,1026.7 L387.5,1026.8 L390.5,1026.9 L393.5,1026.9 L396.5,1027.0 L399.6,1027.1 L402.6,1027.2 L405.6,1027.2 L408.6,1027.3 L411.6,1027.4 L414.6,1027.4 L417.6,1027.5 L420.6,1027.5 L423.6,1027.6 L426.6,1027.7 L429.7,1027.7 L432.7,1027.8 L435.7,1027.8 L438.7,1027.9 L441.7,1027.9 L444.7,1028.0 L447.7,1028.0 L450.7,1028.0 L453.7,1028.1 L456.7,1028.1 L459.7,1028.2 L462.8,1028.2 L465.8,1028.2 L468.8,1028.3 L471.8,1028.3 L474.8,1028.3 L477.8,1028.3 L480.8,1028.4 L483.8,1028.4 L486.8,1028.4 L489.8,1028.4 L492.9,1028.4 L495.9,1028.5 L498.9,1028.5 L501.9,1028.5 L504.9,1028.5 L507.9,1028.5 L510.9,1028.5 L513.9,1028.5 L516.9,1028.5 L519.9,1028.5 L523.0,1028.5 L526.0,1028.4 L529.0,1028.2 L532.0,1028.0 L535.0,1027.8 L538.0,1027.6 L541.1,1027.3 L544.1,1026.9 L547.1,1026.5 L550.1,1026.1 L553.1,1025.7 L556.1,1025.2 L559.2,1024.7 L562.2,1024.2 L565.2,1023.7 L568.2,1023.1 L571.2,1022.5 L574.3,1021.8 L577.3,1021.2 L580.3,1020.5 L583.3,1019.8 L586.3,1019.0 L589.3,1018.3 L592.4,1017.5 L595.4,1016.7 L598.4,1015.9 L601.4,1015.1 L604.4,1014.2 L607.4,1013.4 L610.5,1012.5 L613.5,1011.6 L616.5,1010.7 L619.5,1009.8 L622.5,1008.9 L625.6,1007.9 L628.6,1007.0 L631.6,1006.1 L634.6,1005.1 L637.6,1004.2 L640.6,1003.3 L643.7,1002.4 L646.7,1001.5 L649.7,1000.7 L652.7,999.8 L655.7,999.0 L658.7,998.3 L661.8,997.5 L664.8,996.8 L667.8,996.2 L670.8,995.6 L673.8,995.0 L676.9,994.5 L679.9,994.1 L682.9,993.7 L685.9,993.4 L688.9,993.1 L691.9,993.0 L695.0,992.9 L698.0,992.9 L700.9,992.9 L703.9,993.1 L706.9,993.3 L709.9,993.6 L712.9,993.9 L715.9,994.3 L718.9,994.8 L721.9,995.4 L724.9,996.0 L727.9,996.6 L730.9,997.3 L733.9,998.1 L736.8,998.8 L739.8,999.7 L742.8,1000.5 L745.8,1001.4 L748.8,1002.3 L751.8,1003.3 L754.8,1004.2 L757.8,1005.1 L760.8,1006.1 L763.8,1007.0 L766.8,1008.0 L769.8,1008.9 L772.7,1009.8 L775.7,1010.7 L778.7,1011.6 L781.7,1012.4 L784.7,1013.2 L787.7,1014.0 L790.7,1014.8 L793.7,1015.5 L796.7,1016.2 L799.7,1016.9 L802.7,1017.5 L805.7,1018.2 L808.6,1018.7 L811.6,1019.3 L814.6,1019.8 L817.6,1020.3 L820.6,1020.8 L823.6,1021.3 L826.6,1021.7 L829.6,1022.1 L832.6,1022.5 L835.6,1022.8 L838.6,1023.1 L841.6,1023.4 L844.5,1023.7 L847.5,1023.9 L850.5,1024.2 L853.5,1024.4 L856.5,1024.6 L859.5,1024.7 L862.5,1024.9 L865.5,1025.0 L868.5,1025.1 L871.5,1025.2 L874.5,1025.3 L877.5,1025.3 L880.4,1025.4 L883.4,1025.4 L886.4,1025.4 L889.4,1025.4 L892.4,1025.4 L895.4,1025.4 L898.4,1025.3 L901.4,1025.3 L904.4,1025.2 L907.4,1025.2 L910.4,1025.1 L913.4,1025.0 L916.3,1024.9 L919.3,1024.8 L922.3,1024.7 L925.3,1024.6 L928.3,1024.5 L931.3,1024.4 L934.3,1024.3 L937.3,1024.1 L940.3,1024.0 L943.3,1023.9 L946.3,1023.8 L949.3,1023.7 L952.2,1023.5 L955.2,1023.4 L958.2,1023.3 L961.2,1023.2 L964.2,1023.1 L967.2,1023.0 L970.2,1022.9 L973.2,1022.8 L976.2,1022.7 L979.2,1022.6 L982.2,1022.5 L985.2,1022.5 L988.1,1022.4 L991.1,1022.4 L994.1,1022.3 L997.1,1022.3 L1000.1,1022.3 L1003.1,1022.3 L1006.1,1022.3 L1009.1,1022.3 L1012.1,1022.3 L1015.1,1022.3 L1018.1,1022.3 L1021.1,1022.3 L1024.0,1022.4 L1027.0,1022.4 L1030.0,1022.5 L1033.0,1022.5 L1036.0,1022.6 L1039.0,1022.6"/>
<path d="M225.0,1054.1 L228.0,1054.0 L231.0,1053.9 L234.0,1053.8 L237.0,1053.8 L240.0,1053.7 L243.1,1053.6 L246.1,1053.6 L249.1,1053.5 L252.1,1053.4 L255.1,1053.4 L258.1,1053.3 L261.1,1053.3 L264.1,1053.2 L267.1,1053.2 L270.1,1053.2 L273.2,1053.2 L276.2,1053.2 L279.2,1053.2 L282.2,1053.3 L285.2,1053.3 L288.2,1053.4 L291.2,1053.5 L294.2,1053.6 L297.2,1053.8 L300.2,1054.0 L303.2,1054.2 L306.3,1054.5 L309.3,1054.9 L312.3,1055.3 L315.3,1055.8 L318.3,1056.3 L321.3,1056.9 L324.3,1057.6 L327.3,1058.4 L330.3,1059.2 L333.3,1060.2 L336.4,1061.2 L339.4,1062.2 L342.4,1063.4 L345.4,1064.5 L348.4,1065.8 L351.4,1067.1 L354.4,1068.4 L357.4,1069.8 L360.4,1071.2 L363.4,1072.7 L366.5,1074.2 L369.5,1075.7 L372.5,1077.3 L375.5,1078.8 L378.5,1080.4 L381.5,1082.0 L384.5,1083.6 L387.5,1085.2 L390.5,1086.8 L393.5,1088.5 L396.5,1090.1 L399.6,1091.7 L402.6,1093.3 L405.6,1094.9 L408.6,1096.5 L411.6,1098.1 L414.6,1099.7 L417.6,1101.3 L420.6,1102.8 L423.6,1104.4 L426.6,1105.9 L429.7,1107.4 L432.7,1108.9 L435.7,1110.3 L438.7,1111.8 L441.7,1113.2 L444.7,1114.5 L447.7,1115.9 L450.7,1117.2 L453.7,1118.4 L456.7,1119.6 L459.7,1120.8 L462.8,1122.0 L465.8,1123.1 L468.8,1124.1 L471.8,1125.1 L474.8,1126.1 L477.8,1127.0 L480.8,1127.8 L483.8,1128.6 L486.8,1129.4 L489.8,1130.0 L492.9,1130.6 L495.9,1131.2 L498.9,1131.7 L501.9,1132.1 L504.9,1132.5 L507.9,1132.8 L510.9,1133.0 L513.9,1133.2 L516.9,1133.3 L519.9,1133.4 L523.0,1133.5 L526.0,1133.6 L529.0,1133.7 L532.0,1133.9 L535.0,1134.0 L538.0,1134.2 L541.1,1134.4 L544.1,1134.7 L547.1,1134.9 L550.1,1135.2 L553.1,1135.4 L556.1,1135.7 L559.2,1136.0 L562.2,1136.3 L565.2,1136.7 L568.2,1137.0 L571.2,1137.4 L574.3,1137.7 L577.3,1138.1 L580.3,1138.4 L583.3,1138.8 L586.3,1139.2 L589.3,1139.6 L592.4,1140.0 L595.4,1140.3 L598.4,1140.7 L601.4,1141.1 L604.4,1141.5 L607.4,1141.9 L610.5,1142.3 L613.5,1142.7 L616.5,1143.0 L619.5,1143.4 L622.5,1143.8 L625.6,1144.1 L628.6,1144.5 L631.6,1144.8 L634.6,1145.1 L637.6,1145.4 L640.6,1145.8 L643.7,1146.1 L646.7,1146.3 L649.7,1146.6 L652.7,1146.9 L655.7,1147.2 L658.7,1147.4 L661.8,1147.6 L664.8,1147.8 L667.8,1148.1 L670.8,1148.2 L673.8,1148.4 L676.9,1148.6 L679.9,1148.7 L682.9,1148.9 L685.9,1149.0 L688.9,1149.1 L691.9,1149.2 L695.0,1149.2 L698.0,1149.2 L700.9,1149.1 L703.9,1149.0 L706.9,1148.9 L709.9,1148.7 L712.9,1148.6 L715.9,1148.3 L718.9,1148.1 L721.9,1147.8 L724.9,1147.5 L727.9,1147.2 L730.9,1146.8 L733.9,1146.4 L736.8,1146.0 L739.8,1145.5 L742.8,1145.1 L745.8,1144.5 L748.8,1144.0 L751.8,1143.4 L754.8,1142.8 L757.8,1142.2 L760.8,1141.6 L763.8,1140.9 L766.8,1140.2 L769.8,1139.4 L772.7,1138.6 L775.7,1137.8 L778.7,1136.9 L781.7,1136.1 L784.7,1135.1 L787.7,1134.1 L790.7,1133.1 L793.7,1132.1 L796.7,1131.0 L799.7,1129.8 L802.7,1128.7 L805.7,1127.4 L808.6,1126.2 L811.6,1124.8 L814.6,1123.5 L817.6,1122.1 L820.6,1120.6 L823.6,1119.1 L826.6,1117.6 L829.6,1116.0 L832.6,1114.4 L835.6,1112.8 L838.6,1111.1 L841.6,1109.5 L844.5,1107.8 L847.5,1106.0 L850.5,1104.3 L853.5,1102.5 L856.5,1100.7 L859.5,1098.9 L862.5,1097.1 L865.5,1095.3 L868.5,1093.5 L871.5,1091.7 L874.5,1089.9 L877.5,1088.1 L880.4,1086.2 L883.4,1084.5 L886.4,1082.7 L889.4,1080.9 L892.4,1079.2 L895.4,1077.5 L898.4,1075.9 L901.4,1074.3 L904.4,1072.7 L907.4,1071.2 L910.4,1069.7 L913.4,1068.3 L916.3,1067.0 L919.3,1065.7 L922.3,1064.5 L925.3,1063.3 L928.3,1062.3 L931.3,1061.2 L934.3,1060.3 L937.3,1059.4 L940.3,1058.6 L943.3,1057.9 L946.3,1057.3 L949.3,1056.8 L952.2,1056.3 L955.2,1055.9 L958.2,1055.6 L961.2,1055.3 L964.2,1055.1 L967.2,1054.9 L970.2,1054.8 L973.2,1054.7 L976.2,1054.7 L979.2,1054.6 L982.2,1054.6 L985.2,1054.7 L988.1,1054.7 L991.1,1054.8 L994.1,1054.8 L997.1,1054.9 L1000.1,1054.9 L1003.1,1054.9 L1006.1,1054.9 L1009.1,1054.9 L1012.1,1054.9 L1015.1,1054.8 L1018.1,1054.8 L1021.1,1054.7 L1024.0,1054.6 L1027.0,1054.5 L1030.0,1054.4 L1033.0,1054.3 L1036.0,1054.2 L1039.0,1054.1"/>
<path d="M225.0,1095.7 L228.0,1095.7 L231.0,1095.8 L234.0,1095.9 L237.0,1096.0 L240.0,1096.1 L243.1,1096.3 L246.1,1096.5 L249.1,1096.7 L252.1,1097.0 L255.1,1097.2 L258.1,1097.6 L261.1,1097.9 L264.1,1098.3 L267.1,1098.7 L270.1,1099.1 L273.2,1099.6 L276.2,1100.0 L279.2,1100.6 L282.2,1101.1 L285.2,1101.7 L288.2,1102.3 L291.2,1102.9 L294.2,1103.6 L297.2,1104.3 L300.2,1105.0 L303.2,1105.7 L306.3,1106.5 L309.3,1107.3 L312.3,1108.1 L315.3,1109.0 L318.3,1109.9 L321.3,1110.8 L324.3,1111.7 L327.3,1112.7 L330.3,1113.7 L333.3,1114.7 L336.4,1115.8 L339.4,1116.9 L342.4,1118.0 L345.4,1119.1 L348.4,1120.3 L351.4,1121.5 L354.4,1122.7 L357.4,1124.0 L360.4,1125.3 L363.4,1126.6 L366.5,1127.9 L369.5,1129.3 L372.5,1130.7 L375.5,1132.1 L378.5,1133.6 L381.5,1135.1 L384.5,1136.6 L387.5,1138.1 L390.5,1139.7 L393.5,1141.3 L396.5,1142.9 L399.6,1144.5 L402.6,1146.2 L405.6,1147.9 L408.6,1149.7 L411.6,1151.4 L414.6,1153.2 L417.6,1155.0 L420.6,1156.9 L423.6,1158.8 L426.6,1160.7 L429.7,1162.6 L432.7,1164.6 L435.7,1166.6 L438.7,1168.7 L441.7,1170.7 L444.7,1172.8 L447.7,1175.0 L450.7,1177.1 L453.7,1179.3 L456.7,1181.5 L459.7,1183.8 L462.8,1186.0 L465.8,1188.2 L468.8,1190.4 L471.8,1192.6 L474.8,1194.7 L477.8,1196.8 L480.8,1198.8 L483.8,1200.8 L486.8,1202.7 L489.8,1204.4 L492.9,1206.1 L495.9,1207.7 L498.9,1209.1 L501.9,1210.4 L504.9,1211.5 L507.9,1212.5 L510.9,1213.3 L513.9,1214.0 L516.9,1214.4 L519.9,1214.7 L523.0,1214.9 L526.0,1214.9 L529.0,1214.8 L532.0,1214.7 L535.0,1214.6 L538.0,1214.4 L541.1,1214.3 L544.1,1214.1 L547.1,1213.8 L550.1,1213.6 L553.1,1213.3 L556.1,1213.0 L559.2,1212.7 L562.2,1212.4 L565.2,1212.0 L568.2,1211.7 L571.2,1211.3 L574.3,1211.0 L577.3,1210.6 L580.3,1210.3 L583.3,1209.9 L586.3,1209.5 L589.3,1209.1 L592.4,1208.8 L595.4,1208.4 L598.4,1208.1 L601.4,1207.8 L604.4,1207.4 L607.4,1207.1 L610.5,1206.8 L613.5,1206.6 L616.5,1206.3 L619.5,1206.1 L622.5,1205.9 L625.6,1205.7 L628.6,1205.5 L631.6,1205.4 L634.6,1205.3 L637.6,1205.3 L640.6,1205.2 L643.7,1205.3 L646.7,1205.3 L649.7,1205.4 L652.7,1205.6 L655.7,1205.7 L658.7,1206.0 L661.8,1206.3 L664.8,1206.6 L667.8,1207.0 L670.8,1207.4 L673.8,1207.9 L676.9,1208.5 L679.9,1209.1 L682.9,1209.8 L685.9,1210.5 L688.9,1211.4 L691.9,1212.2 L695.0,1213.2 L698.0,1214.0 L700.9,1214.9 L703.9,1215.8 L706.9,1216.9 L709.9,1218.0 L712.9,1219.2 L715.9,1220.5 L718.9,1221.9 L721.9,1223.3 L724.9,1224.7 L727.9,1226.2 L730.9,1227.8 L733.9,1229.4 L736.8,1231.0 L739.8,1232.7 L742.8,1234.4 L745.8,1236.1 L748.8,1237.8 L751.8,1239.5 L754.8,1241.3 L757.8,1243.0 L760.8,1244.8 L763.8,1246.5 L766.8,1248.2 L769.8,1249.9 L772.7,1251.6 L775.7,1253.2 L778.7,1254.9 L781.7,1256.4 L784.7,1258.0 L787.7,1259.5 L790.7,1260.9 L793.7,1262.3 L796.7,1263.6 L799.7,1264.9 L802.7,1266.1 L805.7,1267.3 L808.6,1268.4 L811.6,1269.5 L814.6,1270.5 L817.6,1271.5 L820.6,1272.4 L823.6,1273.3 L826.6,1274.2 L829.6,1275.0 L832.6,1275.7 L835.6,1276.4 L838.6,1277.1 L841.6,1277.8 L844.5,1278.4 L847.5,1278.9 L850.5,1279.5 L853.5,1279.9 L856.5,1280.4 L859.5,1280.8 L862.5,1281.2 L865.5,1281.6 L868.5,1282.0 L871.5,1282.3 L874.5,1282.6 L877.5,1282.8 L880.4,1283.0 L883.4,1283.3 L886.4,1283.4 L889.4,1283.6 L892.4,1283.7 L895.4,1283.9 L898.4,1284.0 L901.4,1284.0 L904.4,1284.1 L907.4,1284.1 L910.4,1284.1 L913.4,1284.1 L916.3,1284.1 L919.3,1284.1 L922.3,1284.0 L925.3,1284.0 L928.3,1283.9 L931.3,1283.8 L934.3,1283.7 L937.3,1283.6 L940.3,1283.5 L943.3,1283.4 L946.3,1283.2 L949.3,1283.1 L952.2,1282.9 L955.2,1282.8 L958.2,1282.6 L961.2,1282.4 L964.2,1282.2 L967.2,1282.1 L970.2,1281.9 L973.2,1281.7 L976.2,1281.5 L979.2,1281.3 L982.2,1281.1 L985.2,1280.9 L988.1,1280.8 L991.1,1280.6 L994.1,1280.4 L997.1,1280.2 L1000.1,1280.1 L1003.1,1279.9 L1006.1,1279.7 L1009.1,1279.6 L1012.1,1279.5 L1015.1,1279.3 L1018.1,1279.2 L1021.1,1279.1 L1024.0,1279.0 L1027.0,1278.9 L1030.0,1278.8 L1033.0,1278.8 L1036.0,1278.7 L1039.0,1278.7"/>
<path d="M225.0,1158.4 L228.0,1158.4 L231.0,1158.5 L234.0,1158.6 L237.0,1158.7 L240.0,1158.8 L243.1,1158.9 L246.1,1159.0 L249.1,1159.2 L252.1,1159.3 L255.1,1159.5 L258.1,1159.7 L261.1,1159.8 L264.1,1160.0 L267.1,1160.2 L270.1,1160.4 L273.2,1160.6 L276.2,1160.9 L279.2,1161.1 L282.2,1161.3 L285.2,1161.6 L288.2,1161.8 L291.2,1162.1 L294.2,1162.4 L297.2,1162.7 L300.2,1163.0 L303.2,1163.2 L306.3,1163.6 L309.3,1163.9 L312.3,1164.2 L315.3,1164.5 L318.3,1164.8 L321.3,1165.2 L324.3,1165.5 L327.3,1165.9 L330.3,1166.2 L333.3,1166.6 L336.4,1166.9 L339.4,1167.3 L342.4,1167.7 L345.4,1168.1 L348.4,1168.4 L351.4,1168.8 L354.4,1169.2 L357.4,1169.6 L360.4,1170.0 L363.4,1170.4 L366.5,1170.8 L369.5,1171.2 L372.5,1171.7 L375.5,1172.1 L378.5,1172.5 L381.5,1172.9 L384.5,1173.3 L387.5,1173.8 L390.5,1174.2 L393.5,1174.6 L396.5,1175.1 L399.6,1175.5 L402.6,1175.9 L405.6,1176.3 L408.6,1176.8 L411.6,1177.2 L414.6,1177.6 L417.6,1178.0 L420.6,1178.4 L423.6,1178.8 L426.6,1179.3 L429.7,1179.6 L432.7,1180.0 L435.7,1180.4 L438.7,1180.8 L441.7,1181.2 L444.7,1181.5 L447.7,1181.9 L450.7,1182.2 L453.7,1182.6 L456.7,1182.9 L459.7,1183.2 L462.8,1183.5 L465.8,1183.8 L468.8,1184.1 L471.8,1184.4 L474.8,1184.6 L477.8,1184.9 L480.8,1185.1 L483.8,1185.3 L486.8,1185.5 L489.8,1185.7 L492.9,1185.9 L495.9,1186.0 L498.9,1186.1 L501.9,1186.3 L504.9,1186.4 L507.9,1186.4 L510.9,1186.5 L513.9,1186.6 L516.9,1186.6 L519.9,1186.6 L523.0,1186.6 L526.0,1186.6 L529.0,1186.7 L532.0,1186.9 L535.0,1187.2 L538.0,1187.5 L541.1,1188.0 L544.1,1188.4 L547.1,1189.0 L550.1,1189.6 L553.1,1190.3 L556.1,1191.1 L559.2,1191.9 L562.2,1192.7 L565.2,1193.7 L568.2,1194.7 L571.2,1195.7 L574.3,1196.8 L577.3,1197.9 L580.3,1199.1 L583.3,1200.4 L586.3,1201.6 L589.3,1203.0 L592.4,1204.3 L595.4,1205.7 L598.4,1207.2 L601.4,1208.7 L604.4,1210.2 L607.4,1211.7 L610.5,1213.3 L613.5,1214.9 L616.5,1216.5 L619.5,1218.2 L622.5,1219.9 L625.6,1221.6 L628.6,1223.3 L631.6,1225.1 L634.6,1226.8 L637.6,1228.6 L640.6,1230.4 L643.7,1232.2 L646.7,1234.0 L649.7,1235.8 L652.7,1237.6 L655.7,1239.5 L658.7,1241.3 L661.8,1243.1 L664.8,1245.0 L667.8,1246.8 L670.8,1248.6 L673.8,1250.4 L676.9,1252.2 L679.9,1254.0 L682.9,1255.8 L685.9,1257.6 L688.9,1259.4 L691.9,1261.1 L695.0,1262.8 L698.0,1264.5 L701.0,1266.1 L704.0,1267.8 L707.0,1269.4 L710.0,1271.0 L713.0,1272.6 L716.0,1274.2 L719.0,1275.8 L722.0,1277.4 L725.0,1279.0 L728.0,1280.6 L731.0,1282.1 L734.0,1283.7 L737.0,1285.2 L740.0,1286.7 L743.0,1288.2 L746.0,1289.7 L749.0,1291.1 L752.0,1292.6 L755.0,1294.0 L758.0,1295.4 L761.0,1296.8 L764.0,1298.2 L767.0,1299.5 L770.0,1300.8 L773.0,1302.1 L776.0,1303.4 L779.0,1304.7 L782.0,1305.9 L785.0,1307.1 L788.0,1308.3 L791.0,1309.5 L794.0,1310.6 L797.0,1311.7 L800.0,1312.8 L803.0,1313.9 L806.0,1314.9 L809.0,1315.9 L812.0,1316.9 L815.0,1317.8 L818.0,1318.7 L821.0,1319.6 L824.0,1320.4 L827.0,1321.2 L830.0,1322.0"/>
<path d="M225.0,1278.9 L228.0,1278.9 L231.0,1278.9 L234.0,1278.9 L237.0,1279.0 L240.0,1279.0 L243.1,1279.0 L246.1,1279.0 L249.1,1279.1 L252.1,1279.1 L255.1,1279.2 L258.1,1279.3 L261.1,1279.3 L264.1,1279.4 L267.1,1279.5 L270.1,1279.6 L273.2,1279.7 L276.2,1279.8 L279.2,1279.9 L282.2,1280.0 L285.2,1280.1 L288.2,1280.2 L291.2,1280.4 L294.2,1280.5 L297.2,1280.7 L300.2,1280.8 L303.2,1281.0 L306.3,1281.2 L309.3,1281.3 L312.3,1281.5 L315.3,1281.7 L318.3,1281.9 L321.3,1282.1 L324.3,1282.2 L327.3,1282.4 L330.3,1282.6 L333.3,1282.7 L336.4,1282.9 L339.4,1283.0 L342.4,1283.2 L345.4,1283.3 L348.4,1283.4 L351.4,1283.5 L354.4,1283.6 L357.4,1283.6 L360.4,1283.7 L363.4,1283.7 L366.5,1283.7 L369.5,1283.7 L372.5,1283.6 L375.5,1283.6 L378.5,1283.5 L381.5,1283.4 L384.5,1283.2 L387.5,1283.1 L390.5,1282.9 L393.5,1282.6 L396.5,1282.3 L399.6,1282.0 L402.6,1281.7 L405.6,1281.3 L408.6,1280.9 L411.6,1280.5 L414.6,1280.1 L417.6,1279.6 L420.6,1279.1 L423.6,1278.6 L426.6,1278.1 L429.7,1277.6 L432.7,1277.1 L435.7,1276.5 L438.7,1276.0 L441.7,1275.4 L444.7,1274.9 L447.7,1274.3 L450.7,1273.8 L453.7,1273.2 L456.7,1272.7 L459.7,1272.1 L462.8,1271.6 L465.8,1271.1 L468.8,1270.6 L471.8,1270.1 L474.8,1269.6 L477.8,1269.2 L480.8,1268.7 L483.8,1268.3 L486.8,1268.0 L489.8,1267.6 L492.9,1267.3 L495.9,1267.0 L498.9,1266.8 L501.9,1266.5 L504.9,1266.4 L507.9,1266.2 L510.9,1266.1 L513.9,1266.1 L516.9,1266.1 L519.9,1266.1 L523.0,1266.1 L526.0,1266.0 L529.0,1265.8 L532.0,1265.6 L535.0,1265.3 L538.0,1264.9 L541.1,1264.5 L544.1,1263.9 L547.1,1263.3 L550.1,1262.6 L553.1,1261.9 L556.1,1261.1 L559.2,1260.2 L562.2,1259.3 L565.2,1258.4 L568.2,1257.3 L571.2,1256.3 L574.3,1255.2 L577.3,1254.1 L580.3,1252.9 L583.3,1251.7 L586.3,1250.5 L589.3,1249.3 L592.4,1248.1 L595.4,1246.8 L598.4,1245.5 L601.4,1244.3 L604.4,1243.0 L607.4,1241.7 L610.5,1240.4 L613.5,1239.2 L616.5,1237.9 L619.5,1236.7 L622.5,1235.5 L625.6,1234.3 L628.6,1233.1 L631.6,1231.9 L634.6,1230.8 L637.6,1229.7 L640.6,1228.6 L643.7,1227.5 L646.7,1226.5 L649.7,1225.5 L652.7,1224.5 L655.7,1223.5 L658.7,1222.5 L661.8,1221.6 L664.8,1220.7 L667.8,1219.8 L670.8,1219.0 L673.8,1218.2 L676.9,1217.4 L679.9,1216.6 L682.9,1215.9 L685.9,1215.2 L688.9,1214.5 L691.9,1213.8 L695.0,1213.2 L698.0,1212.0 L700.9,1210.8 L703.9,1209.7 L706.9,1208.6 L709.9,1207.5 L712.9,1206.4 L715.9,1205.3 L718.9,1204.2 L721.9,1203.2 L724.9,1202.1 L727.9,1201.1 L730.9,1200.1 L733.9,1199.0 L736.8,1198.0 L739.8,1197.0 L742.8,1196.0 L745.8,1195.0 L748.8,1194.0 L751.8,1192.9 L754.8,1191.9 L757.8,1190.9 L760.8,1189.8 L763.8,1188.7 L766.8,1187.7 L769.8,1186.6 L772.7,1185.5 L775.7,1184.4 L778.7,1183.2 L781.7,1182.1 L784.7,1180.9 L787.7,1179.7 L790.7,1178.5 L793.7,1177.2 L796.7,1175.9 L799.7,1174.6 L802.7,1173.3 L805.7,1172.0 L808.6,1170.6 L811.6,1169.2 L814.6,1167.8 L817.6,1166.4 L820.6,1165.0 L823.6,1163.6 L826.6,1162.1 L829.6,1160.6 L832.6,1159.2 L835.6,1157.7 L838.6,1156.2 L841.6,1154.7 L844.5,1153.2 L847.5,1151.7 L850.5,1150.1 L853.5,1148.6 L856.5,1147.1 L859.5,1145.6 L862.5,1144.1 L865.5,1142.6 L868.5,1141.0 L871.5,1139.5 L874.5,1138.0 L877.5,1136.5 L880.4,1135.1 L883.4,1133.6 L886.4,1132.1 L889.4,1130.7 L892.4,1129.2 L895.4,1127.8 L898.4,1126.4 L901.4,1125.0 L904.4,1123.7 L907.4,1122.3 L910.4,1121.0 L913.4,1119.7 L916.3,1118.5 L919.3,1117.2 L922.3,1116.0 L925.3,1114.9 L928.3,1113.7 L931.3,1112.6 L934.3,1111.5 L937.3,1110.5 L940.3,1109.5 L943.3,1108.5 L946.3,1107.6 L949.3,1106.7 L952.2,1105.9 L955.2,1105.0 L958.2,1104.3 L961.2,1103.6 L964.2,1102.9 L967.2,1102.2 L970.2,1101.6 L973.2,1101.0 L976.2,1100.5 L979.2,1099.9 L982.2,1099.5 L985.2,1099.0 L988.1,1098.6 L991.1,1098.2 L994.1,1097.8 L997.1,1097.5 L1000.1,1097.2 L1003.1,1096.9 L1006.1,1096.7 L1009.1,1096.5 L1012.1,1096.3 L1015.1,1096.1 L1018.1,1096.0 L1021.1,1095.8 L1024.0,1095.7 L1027.0,1095.7 L1030.0,1095.6 L1033.0,1095.6 L1036.0,1095.5 L1039.0,1095.5"/>
<path d="M225.0,1325.0 L228.0,1324.9 L231.0,1324.8 L234.0,1324.6 L237.0,1324.5 L240.0,1324.4 L243.1,1324.3 L246.1,1324.2 L249.1,1324.0 L252.1,1323.9 L255.1,1323.8 L258.1,1323.7 L261.1,1323.6 L264.1,1323.4 L267.1,1323.3 L270.1,1323.2 L273.2,1323.1 L276.2,1323.0 L279.2,1322.9 L282.2,1322.7 L285.2,1322.6 L288.2,1322.5 L291.2,1322.4 L294.2,1322.3 L297.2,1322.1 L300.2,1322.0 L303.2,1321.9 L306.3,1321.8 L309.3,1321.7 L312.3,1321.6 L315.3,1321.4 L318.3,1321.3 L321.3,1321.2 L324.3,1321.1 L327.3,1320.9 L330.3,1320.8 L333.3,1320.7 L336.4,1320.6 L339.4,1320.4 L342.4,1320.3 L345.4,1320.2 L348.4,1320.0 L351.4,1319.9 L354.4,1319.8 L357.4,1319.6 L360.4,1319.5 L363.4,1319.4 L366.5,1319.2 L369.5,1319.1 L372.5,1318.9 L375.5,1318.8 L378.5,1318.6 L381.5,1318.5 L384.5,1318.4 L387.5,1318.2 L390.5,1318.0 L393.5,1317.9 L396.5,1317.7 L399.6,1317.6 L402.6,1317.4 L405.6,1317.3 L408.6,1317.1 L411.6,1316.9 L414.6,1316.8 L417.6,1316.6 L420.6,1316.4 L423.6,1316.2 L426.6,1316.1 L429.7,1315.9 L432.7,1315.7 L435.7,1315.5 L438.7,1315.3 L441.7,1315.1 L444.7,1314.9 L447.7,1314.7 L450.7,1314.5 L453.7,1314.3 L456.7,1314.1 L459.7,1313.9 L462.8,1313.7 L465.8,1313.5 L468.8,1313.3 L471.8,1313.0 L474.8,1312.8 L477.8,1312.6 L480.8,1312.3 L483.8,1312.1 L486.8,1311.8 L489.8,1311.6 L492.9,1311.3 L495.9,1311.0 L498.9,1310.7 L501.9,1310.3 L504.9,1310.0 L507.9,1309.6 L510.9,1309.2 L513.9,1308.9 L516.9,1308.6 L519.9,1308.4 L523.0,1308.2 L525.9,1308.3 L528.9,1308.4 L531.8,1308.6 L534.8,1308.9 L537.7,1309.2 L540.7,1309.7 L543.6,1310.2 L546.6,1310.8 L549.5,1311.5 L552.5,1312.3 L555.5,1313.1 L558.4,1314.0 L561.4,1315.1 L564.3,1316.1 L567.3,1317.3 L570.2,1318.6 L573.2,1319.9 L576.1,1321.3 L579.1,1322.8 L582.0,1324.4 L585.0,1326.0"/>
<path d="M585.0,1328.0 L588.0,1326.1 L590.9,1324.2 L593.9,1322.3 L596.9,1320.5 L599.9,1318.6 L602.8,1316.7 L605.8,1314.8 L608.8,1312.9 L611.7,1311.1 L614.7,1309.2 L617.7,1307.4 L620.7,1305.5 L623.6,1303.7 L626.6,1301.8 L629.6,1300.0 L632.6,1298.2 L635.5,1296.4 L638.5,1294.6 L641.5,1292.8 L644.4,1291.0 L647.4,1289.2 L650.4,1287.4 L653.4,1285.7 L656.3,1284.0 L659.3,1282.2 L662.3,1280.5 L665.2,1278.8 L668.2,1277.1 L671.2,1275.5 L674.2,1273.8 L677.1,1272.2 L680.1,1270.6 L683.1,1269.0 L686.0,1267.4 L689.0,1265.9 L692.0,1264.3 L695.0,1262.8 L698.0,1261.0 L700.9,1259.2 L703.9,1257.4 L706.9,1255.6 L709.9,1253.7 L712.9,1251.9 L715.9,1250.1 L718.9,1248.2 L721.9,1246.4 L724.9,1244.6 L727.9,1242.8 L730.9,1240.9 L733.9,1239.1 L736.8,1237.3 L739.8,1235.5 L742.8,1233.7 L745.8,1231.9 L748.8,1230.1 L751.8,1228.4 L754.8,1226.6 L757.8,1224.9 L760.8,1223.2 L763.8,1221.5 L766.8,1219.8 L769.8,1218.1 L772.7,1216.5 L775.7,1214.8 L778.7,1213.2 L781.7,1211.7 L784.7,1210.1 L787.7,1208.6 L790.7,1207.1 L793.7,1205.6 L796.7,1204.2 L799.7,1202.8 L802.7,1201.4 L805.7,1200.1 L808.6,1198.8 L811.6,1197.5 L814.6,1196.2 L817.6,1195.0 L820.6,1193.7 L823.6,1192.6 L826.6,1191.4 L829.6,1190.3 L832.6,1189.1 L835.6,1188.1 L838.6,1187.0 L841.6,1186.0 L844.5,1184.9 L847.5,1184.0 L850.5,1183.0 L853.5,1182.0 L856.5,1181.1 L859.5,1180.2 L862.5,1179.4 L865.5,1178.5 L868.5,1177.7 L871.5,1176.9 L874.5,1176.1 L877.5,1175.3 L880.4,1174.6 L883.4,1173.8 L886.4,1173.1 L889.4,1172.5 L892.4,1171.8 L895.4,1171.2 L898.4,1170.5 L901.4,1169.9 L904.4,1169.3 L907.4,1168.8 L910.4,1168.2 L913.4,1167.7 L916.3,1167.2 L919.3,1166.7 L922.3,1166.2 L925.3,1165.7 L928.3,1165.3 L931.3,1164.9 L934.3,1164.5 L937.3,1164.1 L940.3,1163.7 L943.3,1163.3 L946.3,1163.0 L949.3,1162.6 L952.2,1162.3 L955.2,1162.0 L958.2,1161.7 L961.2,1161.4 L964.2,1161.2 L967.2,1160.9 L970.2,1160.7 L973.2,1160.5 L976.2,1160.3 L979.2,1160.1 L982.2,1159.9 L985.2,1159.7 L988.1,1159.5 L991.1,1159.4 L994.1,1159.2 L997.1,1159.1 L1000.1,1159.0 L1003.1,1158.9 L1006.1,1158.8 L1009.1,1158.7 L1012.1,1158.6 L1015.1,1158.5 L1018.1,1158.5 L1021.1,1158.4 L1024.0,1158.4 L1027.0,1158.3 L1030.0,1158.3 L1033.0,1158.3 L1036.0,1158.3 L1039.0,1158.3"/>
<path d="M785.0,1326.0 L788.0,1324.2 L791.1,1322.6 L794.1,1321.1 L797.1,1319.7 L800.2,1318.5 L803.2,1317.4 L806.2,1316.3 L809.2,1315.5 L812.3,1314.7 L815.3,1314.0 L818.3,1313.5 L821.4,1313.0 L824.4,1312.7 L827.4,1312.5 L830.5,1312.3 L833.5,1312.3 L836.5,1312.4 L839.5,1312.6 L842.6,1312.9 L845.6,1313.2 L848.6,1313.7 L851.7,1314.3 L854.7,1314.9 L857.7,1315.7 L860.8,1316.5 L863.8,1317.4 L866.8,1318.4 L869.8,1319.5 L872.9,1320.6 L875.9,1321.8 L878.9,1323.2 L882.0,1324.5 L885.0,1326.0"/>
</g>
<g clip-path="url(#ax)" stroke="#000" stroke-opacity="0.8" stroke-width="8.3">
<line x1="225.00" y1="36.0" x2="225.00" y2="1321.0"/>
<line x1="522.95" y1="36.0" x2="522.95" y2="1321.0"/>
<line x1="694.96" y1="36.0" x2="694.96" y2="1321.0"/>
<line x1="1039.00" y1="36.0" x2="1039.00" y2="1321.0"/>
</g>
<g stroke="#000" stroke-linecap="butt">
<line x1="208.20" y1="41.00" x2="225.0" y2="41.00" stroke-width="4.17"/>
<line x1="215.30" y1="83.50" x2="225.0" y2="83.50" stroke-width="3.33"/>
<line x1="215.30" y1="126.00" x2="225.0" y2="126.00" stroke-width="3.33"/>
<line x1="215.30" y1="168.50" x2="225.0" y2="168.50" stroke-width="3.33"/>
<line x1="215.30" y1="211.00" x2="225.0" y2="211.00" stroke-width="3.33"/>
<line x1="208.20" y1="253.50" x2="225.0" y2="253.50" stroke-width="4.17"/>
<line x1="215.30" y1="296.00" x2="225.0" y2="296.00" stroke-width="3.33"/>
<line x1="215.30" y1="338.50" x2="225.0" y2="338.50" stroke-width="3.33"/>
<line x1="215.30" y1="381.00" x2="225.0" y2="381.00" stroke-width="3.33"/>
<line x1="215.30" y1="423.50" x2="225.0" y2="423.50" stroke-width="3.33"/>
<line x1="208.20" y1="466.00" x2="225.0" y2="466.00" stroke-width="4.17"/>
<line x1="215.30" y1="508.50" x2="225.0" y2="508.50" stroke-width="3.33"/>
<line x1="215.30" y1="551.00" x2="225.0" y2="551.00" stroke-width="3.33"/>
<line x1="215.30" y1="593.50" x2="225.0" y2="593.50" stroke-width="3.33"/>
<line x1="215.30" y1="636.00" x2="225.0" y2="636.00" stroke-width="3.33"/>
<line x1="208.20" y1="678.50" x2="225.0" y2="678.50" stroke-width="4.17"/>
<line x1="215.30" y1="721.00" x2="225.0" y2="721.00" stroke-width="3.33"/>
<line x1="215.30" y1="763.50" x2="225.0" y2="763.50" stroke-width="3.33"/>
<line x1="215.30" y1="806.00" x2="225.0" y2="806.00" stroke-width="3.33"/>
<line x1="215.30" y1="848.50" x2="225.0" y2="848.50" stroke-width="3.33"/>
<line x1="208.20" y1="891.00" x2="225.0" y2="891.00" stroke-width="4.17"/>
<line x1="215.30" y1="933.50" x2="225.0" y2="933.50" stroke-width="3.33"/>
<line x1="215.30" y1="976.00" x2="225.0" y2="976.00" stroke-width="3.33"/>
<line x1="215.30" y1="1018.50" x2="225.0" y2="1018.50" stroke-width="3.33"/>
<line x1="215.30" y1="1061.00" x2="225.0" y2="1061.00" stroke-width="3.33"/>
<line x1="208.20" y1="1103.50" x2="225.0" y2="1103.50" stroke-width="4.17"/>
<line x1="215.30" y1="1146.00" x2="225.0" y2="1146.00" stroke-width="3.33"/>
<line x1="215.30" y1="1188.50" x2="225.0" y2="1188.50" stroke-width="3.33"/>
<line x1="215.30" y1="1231.00" x2="225.0" y2="1231.00" stroke-width="3.33"/>
<line x1="215.30" y1="1273.50" x2="225.0" y2="1273.50" stroke-width="3.33"/>
<line x1="208.20" y1="1316.00" x2="225.0" y2="1316.00" stroke-width="4.17"/>
<line x1="225.00" y1="1316.0" x2="225.00" y2="1332.80" stroke-width="4.17"/>
<line x1="522.95" y1="1316.0" x2="522.95" y2="1332.80" stroke-width="4.17"/>
<line x1="694.96" y1="1316.0" x2="694.96" y2="1332.80" stroke-width="4.17"/>
<line x1="1039.00" y1="1316.0" x2="1039.00" y2="1332.80" stroke-width="4.17"/>
</g>
<rect x="225.0" y="41.0" width="814.0" height="1275.0" fill="none" stroke="#000" stroke-width="4.17" stroke-linejoin="miter"/>
<g font-size="92.0" text-anchor="end">
<text x="188.30" y="70.60">3</text>
<text x="189.70" y="283.10">2</text>
<text x="189.80" y="495.60">1</text>
<text x="190.30" y="708.10">0</text>
<text><tspan x="147.2" y="924.10" font-size="103.0">-</tspan><tspan x="188.10" y="920.60">1</tspan></text>
<text><tspan x="147.2" y="1136.60" font-size="103.0">-</tspan><tspan x="189.30" y="1133.10">2</tspan></text>
<text><tspan x="147.2" y="1349.10" font-size="103.0">-</tspan><tspan x="187.60" y="1345.60">3</tspan></text>
</g>
<g font-size="90.5" text-anchor="middle">
<text x="227.30" y="1410.3">Γ</text>
<text x="523.65" y="1410.3">M</text>
<text x="695.66" y="1410.3">K</text>
<text x="1041.30" y="1410.3">Γ</text>
</g>
<text font-size="89.5" text-anchor="middle" transform="translate(70.0,680.1) rotate(-90)">Energy [eV]</text>
</svg></body></html>
